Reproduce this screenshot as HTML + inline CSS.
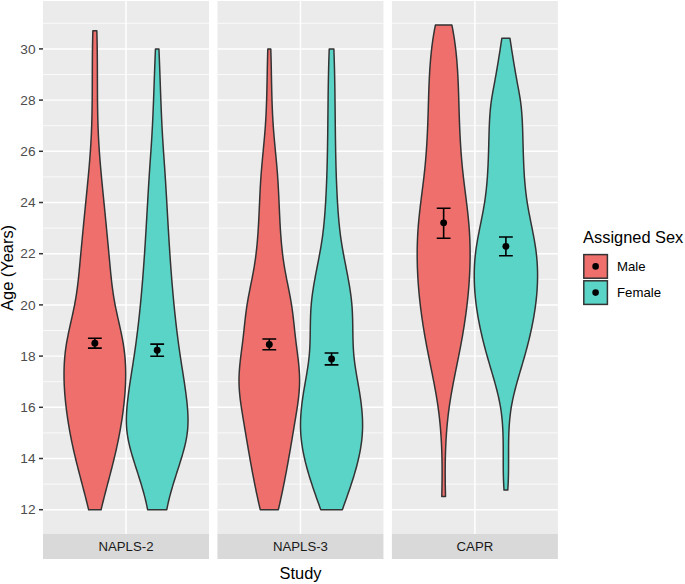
<!DOCTYPE html>
<html><head><meta charset="utf-8"><style>
html,body{margin:0;padding:0;background:#fff;}
body{width:685px;height:584px;position:relative;overflow:hidden;font-family:"Liberation Sans",sans-serif;}
div{position:absolute;white-space:nowrap;}
.yt{left:0;width:35.6px;text-align:right;font-size:13.7px;line-height:13.7px;color:#4D4D4D;}
.st{width:166px;text-align:center;font-size:13.2px;line-height:13.2px;color:#1A1A1A;}
.xt{left:43px;width:515px;text-align:center;top:565.02px;font-size:16.4px;line-height:16.4px;color:#000;}
.ytitle{left:-37.15px;top:253.97px;width:100px;text-align:center;font-size:16.4px;line-height:16.4px;transform-origin:50px 13.883px;transform:translate(0,0) rotate(-90deg);color:#000;}
.lt{left:583.1px;top:229.12px;font-size:16.4px;line-height:16.4px;color:#000;}
.ll{left:617.0px;font-size:13.2px;line-height:13.2px;color:#000;}
</style></head><body>
<svg width="685" height="584" viewBox="0 0 685 584" style="position:absolute;left:0;top:0"><rect x="43.0" y="1.0" width="166.0" height="533.0" fill="#EBEBEB"/><line x1="43.0" x2="209.0" y1="484.10" y2="484.10" stroke="#fff" stroke-width="0.75"/><line x1="43.0" x2="209.0" y1="432.90" y2="432.90" stroke="#fff" stroke-width="0.75"/><line x1="43.0" x2="209.0" y1="381.70" y2="381.70" stroke="#fff" stroke-width="0.75"/><line x1="43.0" x2="209.0" y1="330.50" y2="330.50" stroke="#fff" stroke-width="0.75"/><line x1="43.0" x2="209.0" y1="279.30" y2="279.30" stroke="#fff" stroke-width="0.75"/><line x1="43.0" x2="209.0" y1="228.10" y2="228.10" stroke="#fff" stroke-width="0.75"/><line x1="43.0" x2="209.0" y1="176.90" y2="176.90" stroke="#fff" stroke-width="0.75"/><line x1="43.0" x2="209.0" y1="125.70" y2="125.70" stroke="#fff" stroke-width="0.75"/><line x1="43.0" x2="209.0" y1="74.50" y2="74.50" stroke="#fff" stroke-width="0.75"/><line x1="43.0" x2="209.0" y1="23.30" y2="23.30" stroke="#fff" stroke-width="0.75"/><line x1="43.0" x2="209.0" y1="509.70" y2="509.70" stroke="#fff" stroke-width="1.45"/><line x1="43.0" x2="209.0" y1="458.50" y2="458.50" stroke="#fff" stroke-width="1.45"/><line x1="43.0" x2="209.0" y1="407.30" y2="407.30" stroke="#fff" stroke-width="1.45"/><line x1="43.0" x2="209.0" y1="356.10" y2="356.10" stroke="#fff" stroke-width="1.45"/><line x1="43.0" x2="209.0" y1="304.90" y2="304.90" stroke="#fff" stroke-width="1.45"/><line x1="43.0" x2="209.0" y1="253.70" y2="253.70" stroke="#fff" stroke-width="1.45"/><line x1="43.0" x2="209.0" y1="202.50" y2="202.50" stroke="#fff" stroke-width="1.45"/><line x1="43.0" x2="209.0" y1="151.30" y2="151.30" stroke="#fff" stroke-width="1.45"/><line x1="43.0" x2="209.0" y1="100.10" y2="100.10" stroke="#fff" stroke-width="1.45"/><line x1="43.0" x2="209.0" y1="48.90" y2="48.90" stroke="#fff" stroke-width="1.45"/><line x1="126.00" x2="126.00" y1="1.0" y2="534.0" stroke="#fff" stroke-width="1.45"/><rect x="43.0" y="534.0" width="166.0" height="25" fill="#D9D9D9"/><rect x="217.45" y="1.0" width="166.0" height="533.0" fill="#EBEBEB"/><line x1="217.45" x2="383.45" y1="484.10" y2="484.10" stroke="#fff" stroke-width="0.75"/><line x1="217.45" x2="383.45" y1="432.90" y2="432.90" stroke="#fff" stroke-width="0.75"/><line x1="217.45" x2="383.45" y1="381.70" y2="381.70" stroke="#fff" stroke-width="0.75"/><line x1="217.45" x2="383.45" y1="330.50" y2="330.50" stroke="#fff" stroke-width="0.75"/><line x1="217.45" x2="383.45" y1="279.30" y2="279.30" stroke="#fff" stroke-width="0.75"/><line x1="217.45" x2="383.45" y1="228.10" y2="228.10" stroke="#fff" stroke-width="0.75"/><line x1="217.45" x2="383.45" y1="176.90" y2="176.90" stroke="#fff" stroke-width="0.75"/><line x1="217.45" x2="383.45" y1="125.70" y2="125.70" stroke="#fff" stroke-width="0.75"/><line x1="217.45" x2="383.45" y1="74.50" y2="74.50" stroke="#fff" stroke-width="0.75"/><line x1="217.45" x2="383.45" y1="23.30" y2="23.30" stroke="#fff" stroke-width="0.75"/><line x1="217.45" x2="383.45" y1="509.70" y2="509.70" stroke="#fff" stroke-width="1.45"/><line x1="217.45" x2="383.45" y1="458.50" y2="458.50" stroke="#fff" stroke-width="1.45"/><line x1="217.45" x2="383.45" y1="407.30" y2="407.30" stroke="#fff" stroke-width="1.45"/><line x1="217.45" x2="383.45" y1="356.10" y2="356.10" stroke="#fff" stroke-width="1.45"/><line x1="217.45" x2="383.45" y1="304.90" y2="304.90" stroke="#fff" stroke-width="1.45"/><line x1="217.45" x2="383.45" y1="253.70" y2="253.70" stroke="#fff" stroke-width="1.45"/><line x1="217.45" x2="383.45" y1="202.50" y2="202.50" stroke="#fff" stroke-width="1.45"/><line x1="217.45" x2="383.45" y1="151.30" y2="151.30" stroke="#fff" stroke-width="1.45"/><line x1="217.45" x2="383.45" y1="100.10" y2="100.10" stroke="#fff" stroke-width="1.45"/><line x1="217.45" x2="383.45" y1="48.90" y2="48.90" stroke="#fff" stroke-width="1.45"/><line x1="300.45" x2="300.45" y1="1.0" y2="534.0" stroke="#fff" stroke-width="1.45"/><rect x="217.45" y="534.0" width="166.0" height="25" fill="#D9D9D9"/><rect x="391.9" y="1.0" width="166.0" height="533.0" fill="#EBEBEB"/><line x1="391.9" x2="557.9" y1="484.10" y2="484.10" stroke="#fff" stroke-width="0.75"/><line x1="391.9" x2="557.9" y1="432.90" y2="432.90" stroke="#fff" stroke-width="0.75"/><line x1="391.9" x2="557.9" y1="381.70" y2="381.70" stroke="#fff" stroke-width="0.75"/><line x1="391.9" x2="557.9" y1="330.50" y2="330.50" stroke="#fff" stroke-width="0.75"/><line x1="391.9" x2="557.9" y1="279.30" y2="279.30" stroke="#fff" stroke-width="0.75"/><line x1="391.9" x2="557.9" y1="228.10" y2="228.10" stroke="#fff" stroke-width="0.75"/><line x1="391.9" x2="557.9" y1="176.90" y2="176.90" stroke="#fff" stroke-width="0.75"/><line x1="391.9" x2="557.9" y1="125.70" y2="125.70" stroke="#fff" stroke-width="0.75"/><line x1="391.9" x2="557.9" y1="74.50" y2="74.50" stroke="#fff" stroke-width="0.75"/><line x1="391.9" x2="557.9" y1="23.30" y2="23.30" stroke="#fff" stroke-width="0.75"/><line x1="391.9" x2="557.9" y1="509.70" y2="509.70" stroke="#fff" stroke-width="1.45"/><line x1="391.9" x2="557.9" y1="458.50" y2="458.50" stroke="#fff" stroke-width="1.45"/><line x1="391.9" x2="557.9" y1="407.30" y2="407.30" stroke="#fff" stroke-width="1.45"/><line x1="391.9" x2="557.9" y1="356.10" y2="356.10" stroke="#fff" stroke-width="1.45"/><line x1="391.9" x2="557.9" y1="304.90" y2="304.90" stroke="#fff" stroke-width="1.45"/><line x1="391.9" x2="557.9" y1="253.70" y2="253.70" stroke="#fff" stroke-width="1.45"/><line x1="391.9" x2="557.9" y1="202.50" y2="202.50" stroke="#fff" stroke-width="1.45"/><line x1="391.9" x2="557.9" y1="151.30" y2="151.30" stroke="#fff" stroke-width="1.45"/><line x1="391.9" x2="557.9" y1="100.10" y2="100.10" stroke="#fff" stroke-width="1.45"/><line x1="391.9" x2="557.9" y1="48.90" y2="48.90" stroke="#fff" stroke-width="1.45"/><line x1="474.90" x2="474.90" y1="1.0" y2="534.0" stroke="#fff" stroke-width="1.45"/><rect x="391.9" y="534.0" width="166.0" height="25" fill="#D9D9D9"/><path d="M101.08,509.70 L101.39,508.42 L101.70,507.14 L102.01,505.86 L102.32,504.58 L102.64,503.30 L102.96,502.02 L103.28,500.74 L103.61,499.45 L103.93,498.17 L104.26,496.89 L104.59,495.61 L104.92,494.33 L105.25,493.05 L105.58,491.77 L105.92,490.49 L106.25,489.21 L106.59,487.93 L106.92,486.65 L107.26,485.37 L107.60,484.09 L107.93,482.81 L108.27,481.52 L108.61,480.24 L108.94,478.96 L109.28,477.68 L109.61,476.40 L109.95,475.12 L110.28,473.84 L110.61,472.56 L110.94,471.28 L111.27,470.00 L111.60,468.72 L111.93,467.44 L112.25,466.16 L112.58,464.88 L112.90,463.60 L113.22,462.31 L113.53,461.03 L113.85,459.75 L114.16,458.47 L114.47,457.19 L114.77,455.91 L115.08,454.63 L115.38,453.35 L115.67,452.07 L115.97,450.79 L116.26,449.51 L116.54,448.23 L116.82,446.95 L117.10,445.67 L117.37,444.39 L117.64,443.10 L117.91,441.82 L118.17,440.54 L118.43,439.26 L118.69,437.98 L118.94,436.70 L119.18,435.42 L119.43,434.14 L119.67,432.86 L119.90,431.58 L120.13,430.30 L120.36,429.02 L120.58,427.74 L120.80,426.46 L121.01,425.17 L121.22,423.89 L121.43,422.61 L121.63,421.33 L121.83,420.05 L122.02,418.77 L122.21,417.49 L122.40,416.21 L122.58,414.93 L122.75,413.65 L122.92,412.37 L123.09,411.09 L123.26,409.81 L123.41,408.53 L123.57,407.25 L123.72,405.96 L123.86,404.68 L124.01,403.40 L124.14,402.12 L124.27,400.84 L124.40,399.56 L124.52,398.28 L124.64,397.00 L124.75,395.72 L124.85,394.44 L124.95,393.16 L125.04,391.88 L125.13,390.60 L125.21,389.32 L125.29,388.03 L125.36,386.75 L125.42,385.47 L125.48,384.19 L125.53,382.91 L125.57,381.63 L125.61,380.35 L125.64,379.07 L125.66,377.79 L125.67,376.51 L125.68,375.23 L125.68,373.95 L125.68,372.67 L125.66,371.39 L125.64,370.11 L125.61,368.82 L125.57,367.54 L125.52,366.26 L125.47,364.98 L125.40,363.70 L125.33,362.42 L125.25,361.14 L125.16,359.86 L125.07,358.58 L124.96,357.30 L124.84,356.02 L124.72,354.74 L124.58,353.46 L124.44,352.18 L124.28,350.90 L124.12,349.61 L123.95,348.33 L123.76,347.05 L123.57,345.77 L123.37,344.49 L123.16,343.21 L122.94,341.93 L122.71,340.65 L122.47,339.37 L122.23,338.09 L121.98,336.81 L121.73,335.53 L121.47,334.25 L121.20,332.97 L120.93,331.68 L120.66,330.40 L120.38,329.12 L120.10,327.84 L119.82,326.56 L119.54,325.28 L119.25,324.00 L118.96,322.72 L118.68,321.44 L118.39,320.16 L118.10,318.88 L117.81,317.60 L117.53,316.32 L117.24,315.04 L116.96,313.76 L116.69,312.47 L116.41,311.19 L116.14,309.91 L115.87,308.63 L115.61,307.35 L115.35,306.07 L115.10,304.79 L114.86,303.51 L114.62,302.23 L114.39,300.95 L114.16,299.67 L113.95,298.39 L113.74,297.11 L113.53,295.83 L113.33,294.55 L113.14,293.26 L112.96,291.98 L112.77,290.70 L112.60,289.42 L112.43,288.14 L112.26,286.86 L112.10,285.58 L111.94,284.30 L111.79,283.02 L111.64,281.74 L111.50,280.46 L111.36,279.18 L111.22,277.90 L111.08,276.62 L110.95,275.33 L110.82,274.05 L110.69,272.77 L110.56,271.49 L110.44,270.21 L110.32,268.93 L110.19,267.65 L110.07,266.37 L109.95,265.09 L109.84,263.81 L109.72,262.53 L109.60,261.25 L109.48,259.97 L109.36,258.69 L109.24,257.41 L109.13,256.12 L109.01,254.84 L108.89,253.56 L108.77,252.28 L108.65,251.00 L108.53,249.72 L108.41,248.44 L108.29,247.16 L108.17,245.88 L108.05,244.60 L107.93,243.32 L107.80,242.04 L107.68,240.76 L107.56,239.48 L107.44,238.19 L107.32,236.91 L107.20,235.63 L107.07,234.35 L106.95,233.07 L106.83,231.79 L106.71,230.51 L106.58,229.23 L106.46,227.95 L106.34,226.67 L106.21,225.39 L106.09,224.11 L105.96,222.83 L105.84,221.55 L105.72,220.27 L105.59,218.98 L105.47,217.70 L105.34,216.42 L105.22,215.14 L105.09,213.86 L104.96,212.58 L104.84,211.30 L104.71,210.02 L104.59,208.74 L104.46,207.46 L104.33,206.18 L104.21,204.90 L104.08,203.62 L103.95,202.34 L103.83,201.06 L103.70,199.77 L103.57,198.49 L103.44,197.21 L103.32,195.93 L103.19,194.65 L103.06,193.37 L102.94,192.09 L102.81,190.81 L102.68,189.53 L102.56,188.25 L102.43,186.97 L102.31,185.69 L102.18,184.41 L102.06,183.13 L101.94,181.84 L101.81,180.56 L101.69,179.28 L101.57,178.00 L101.45,176.72 L101.33,175.44 L101.21,174.16 L101.10,172.88 L100.98,171.60 L100.87,170.32 L100.75,169.04 L100.64,167.76 L100.53,166.48 L100.42,165.20 L100.31,163.92 L100.21,162.63 L100.10,161.35 L100.00,160.07 L99.90,158.79 L99.80,157.51 L99.70,156.23 L99.60,154.95 L99.51,153.67 L99.42,152.39 L99.33,151.11 L99.24,149.83 L99.15,148.55 L99.07,147.27 L98.99,145.99 L98.91,144.70 L98.83,143.42 L98.76,142.14 L98.68,140.86 L98.61,139.58 L98.55,138.30 L98.48,137.02 L98.42,135.74 L98.36,134.46 L98.30,133.18 L98.25,131.90 L98.20,130.62 L98.15,129.34 L98.10,128.06 L98.06,126.78 L98.01,125.49 L97.97,124.21 L97.93,122.93 L97.89,121.65 L97.86,120.37 L97.82,119.09 L97.79,117.81 L97.76,116.53 L97.73,115.25 L97.71,113.97 L97.68,112.69 L97.66,111.41 L97.64,110.13 L97.62,108.85 L97.60,107.57 L97.58,106.28 L97.56,105.00 L97.55,103.72 L97.53,102.44 L97.52,101.16 L97.51,99.88 L97.49,98.60 L97.48,97.32 L97.47,96.04 L97.46,94.76 L97.46,93.48 L97.45,92.20 L97.44,90.92 L97.44,89.64 L97.43,88.35 L97.42,87.07 L97.42,85.79 L97.42,84.51 L97.41,83.23 L97.41,81.95 L97.40,80.67 L97.40,79.39 L97.40,78.11 L97.39,76.83 L97.39,75.55 L97.39,74.27 L97.38,72.99 L97.38,71.71 L97.37,70.43 L97.37,69.14 L97.36,67.86 L97.36,66.58 L97.35,65.30 L97.35,64.02 L97.34,62.74 L97.33,61.46 L97.32,60.18 L97.31,58.90 L97.30,57.62 L97.29,56.34 L97.28,55.06 L97.27,53.78 L97.26,52.50 L97.24,51.21 L97.23,49.93 L97.21,48.65 L97.19,47.37 L97.17,46.09 L97.15,44.81 L97.13,43.53 L97.11,42.25 L97.08,40.97 L97.05,39.69 L97.03,38.41 L97.00,37.13 L96.96,35.85 L96.93,34.57 L96.89,33.29 L96.86,32.00 L96.82,30.72 L92.88,30.72 L92.84,32.00 L92.81,33.29 L92.77,34.57 L92.74,35.85 L92.70,37.13 L92.67,38.41 L92.65,39.69 L92.62,40.97 L92.59,42.25 L92.57,43.53 L92.55,44.81 L92.53,46.09 L92.51,47.37 L92.49,48.65 L92.47,49.93 L92.46,51.21 L92.44,52.50 L92.43,53.78 L92.42,55.06 L92.41,56.34 L92.40,57.62 L92.39,58.90 L92.38,60.18 L92.37,61.46 L92.36,62.74 L92.35,64.02 L92.35,65.30 L92.34,66.58 L92.34,67.86 L92.33,69.14 L92.33,70.43 L92.32,71.71 L92.32,72.99 L92.31,74.27 L92.31,75.55 L92.31,76.83 L92.30,78.11 L92.30,79.39 L92.30,80.67 L92.29,81.95 L92.29,83.23 L92.28,84.51 L92.28,85.79 L92.28,87.07 L92.27,88.35 L92.26,89.64 L92.26,90.92 L92.25,92.20 L92.24,93.48 L92.24,94.76 L92.23,96.04 L92.22,97.32 L92.21,98.60 L92.19,99.88 L92.18,101.16 L92.17,102.44 L92.15,103.72 L92.14,105.00 L92.12,106.28 L92.10,107.57 L92.08,108.85 L92.06,110.13 L92.04,111.41 L92.02,112.69 L91.99,113.97 L91.97,115.25 L91.94,116.53 L91.91,117.81 L91.88,119.09 L91.84,120.37 L91.81,121.65 L91.77,122.93 L91.73,124.21 L91.69,125.49 L91.64,126.78 L91.60,128.06 L91.55,129.34 L91.50,130.62 L91.45,131.90 L91.40,133.18 L91.34,134.46 L91.28,135.74 L91.22,137.02 L91.15,138.30 L91.09,139.58 L91.02,140.86 L90.94,142.14 L90.87,143.42 L90.79,144.70 L90.71,145.99 L90.63,147.27 L90.55,148.55 L90.46,149.83 L90.37,151.11 L90.28,152.39 L90.19,153.67 L90.10,154.95 L90.00,156.23 L89.90,157.51 L89.80,158.79 L89.70,160.07 L89.60,161.35 L89.49,162.63 L89.39,163.92 L89.28,165.20 L89.17,166.48 L89.06,167.76 L88.95,169.04 L88.83,170.32 L88.72,171.60 L88.60,172.88 L88.49,174.16 L88.37,175.44 L88.25,176.72 L88.13,178.00 L88.01,179.28 L87.89,180.56 L87.76,181.84 L87.64,183.13 L87.52,184.41 L87.39,185.69 L87.27,186.97 L87.14,188.25 L87.02,189.53 L86.89,190.81 L86.76,192.09 L86.64,193.37 L86.51,194.65 L86.38,195.93 L86.26,197.21 L86.13,198.49 L86.00,199.77 L85.87,201.06 L85.75,202.34 L85.62,203.62 L85.49,204.90 L85.37,206.18 L85.24,207.46 L85.11,208.74 L84.99,210.02 L84.86,211.30 L84.74,212.58 L84.61,213.86 L84.48,215.14 L84.36,216.42 L84.23,217.70 L84.11,218.98 L83.98,220.27 L83.86,221.55 L83.74,222.83 L83.61,224.11 L83.49,225.39 L83.36,226.67 L83.24,227.95 L83.12,229.23 L82.99,230.51 L82.87,231.79 L82.75,233.07 L82.63,234.35 L82.50,235.63 L82.38,236.91 L82.26,238.19 L82.14,239.48 L82.02,240.76 L81.90,242.04 L81.77,243.32 L81.65,244.60 L81.53,245.88 L81.41,247.16 L81.29,248.44 L81.17,249.72 L81.05,251.00 L80.93,252.28 L80.81,253.56 L80.69,254.84 L80.57,256.12 L80.46,257.41 L80.34,258.69 L80.22,259.97 L80.10,261.25 L79.98,262.53 L79.86,263.81 L79.75,265.09 L79.63,266.37 L79.51,267.65 L79.38,268.93 L79.26,270.21 L79.14,271.49 L79.01,272.77 L78.88,274.05 L78.75,275.33 L78.62,276.62 L78.48,277.90 L78.34,279.18 L78.20,280.46 L78.06,281.74 L77.91,283.02 L77.76,284.30 L77.60,285.58 L77.44,286.86 L77.27,288.14 L77.10,289.42 L76.93,290.70 L76.74,291.98 L76.56,293.26 L76.37,294.55 L76.17,295.83 L75.96,297.11 L75.75,298.39 L75.54,299.67 L75.31,300.95 L75.08,302.23 L74.84,303.51 L74.60,304.79 L74.35,306.07 L74.09,307.35 L73.83,308.63 L73.56,309.91 L73.29,311.19 L73.01,312.47 L72.74,313.76 L72.46,315.04 L72.17,316.32 L71.89,317.60 L71.60,318.88 L71.31,320.16 L71.02,321.44 L70.74,322.72 L70.45,324.00 L70.16,325.28 L69.88,326.56 L69.60,327.84 L69.32,329.12 L69.04,330.40 L68.77,331.68 L68.50,332.97 L68.23,334.25 L67.97,335.53 L67.72,336.81 L67.47,338.09 L67.23,339.37 L66.99,340.65 L66.76,341.93 L66.54,343.21 L66.33,344.49 L66.13,345.77 L65.94,347.05 L65.75,348.33 L65.58,349.61 L65.42,350.90 L65.26,352.18 L65.12,353.46 L64.98,354.74 L64.86,356.02 L64.74,357.30 L64.63,358.58 L64.54,359.86 L64.45,361.14 L64.37,362.42 L64.30,363.70 L64.23,364.98 L64.18,366.26 L64.13,367.54 L64.09,368.82 L64.06,370.11 L64.04,371.39 L64.02,372.67 L64.02,373.95 L64.02,375.23 L64.03,376.51 L64.04,377.79 L64.06,379.07 L64.09,380.35 L64.13,381.63 L64.17,382.91 L64.22,384.19 L64.28,385.47 L64.34,386.75 L64.41,388.03 L64.49,389.32 L64.57,390.60 L64.66,391.88 L64.75,393.16 L64.85,394.44 L64.95,395.72 L65.06,397.00 L65.18,398.28 L65.30,399.56 L65.43,400.84 L65.56,402.12 L65.69,403.40 L65.84,404.68 L65.98,405.96 L66.13,407.25 L66.29,408.53 L66.44,409.81 L66.61,411.09 L66.78,412.37 L66.95,413.65 L67.12,414.93 L67.30,416.21 L67.49,417.49 L67.68,418.77 L67.87,420.05 L68.07,421.33 L68.27,422.61 L68.48,423.89 L68.69,425.17 L68.90,426.46 L69.12,427.74 L69.34,429.02 L69.57,430.30 L69.80,431.58 L70.03,432.86 L70.27,434.14 L70.52,435.42 L70.76,436.70 L71.01,437.98 L71.27,439.26 L71.53,440.54 L71.79,441.82 L72.06,443.10 L72.33,444.39 L72.60,445.67 L72.88,446.95 L73.16,448.23 L73.44,449.51 L73.73,450.79 L74.03,452.07 L74.32,453.35 L74.62,454.63 L74.93,455.91 L75.23,457.19 L75.54,458.47 L75.85,459.75 L76.17,461.03 L76.48,462.31 L76.80,463.60 L77.12,464.88 L77.45,466.16 L77.77,467.44 L78.10,468.72 L78.43,470.00 L78.76,471.28 L79.09,472.56 L79.42,473.84 L79.75,475.12 L80.09,476.40 L80.42,477.68 L80.76,478.96 L81.09,480.24 L81.43,481.52 L81.77,482.81 L82.10,484.09 L82.44,485.37 L82.78,486.65 L83.11,487.93 L83.45,489.21 L83.78,490.49 L84.12,491.77 L84.45,493.05 L84.78,494.33 L85.11,495.61 L85.44,496.89 L85.77,498.17 L86.09,499.45 L86.42,500.74 L86.74,502.02 L87.06,503.30 L87.38,504.58 L87.69,505.86 L88.00,507.14 L88.31,508.42 L88.62,509.70 Z" fill="#EE6F6C" stroke="#333333" stroke-width="1.5" stroke-linejoin="round"/><path d="M166.79,509.70 L167.03,508.42 L167.28,507.14 L167.54,505.86 L167.81,504.58 L168.09,503.30 L168.38,502.02 L168.68,500.74 L168.99,499.46 L169.31,498.18 L169.64,496.90 L169.97,495.62 L170.31,494.34 L170.66,493.06 L171.01,491.78 L171.37,490.50 L171.74,489.22 L172.11,487.94 L172.48,486.66 L172.86,485.38 L173.25,484.10 L173.64,482.82 L174.03,481.54 L174.43,480.26 L174.83,478.98 L175.23,477.70 L175.64,476.42 L176.04,475.14 L176.45,473.86 L176.86,472.58 L177.27,471.30 L177.68,470.02 L178.09,468.74 L178.50,467.46 L178.91,466.18 L179.32,464.90 L179.72,463.62 L180.13,462.34 L180.53,461.06 L180.92,459.78 L181.32,458.50 L181.70,457.22 L182.09,455.94 L182.46,454.66 L182.83,453.38 L183.19,452.10 L183.55,450.82 L183.89,449.54 L184.23,448.26 L184.55,446.98 L184.87,445.70 L185.17,444.42 L185.46,443.14 L185.74,441.86 L186.00,440.58 L186.25,439.30 L186.48,438.02 L186.70,436.74 L186.91,435.46 L187.09,434.18 L187.26,432.90 L187.41,431.62 L187.54,430.34 L187.66,429.06 L187.75,427.78 L187.84,426.50 L187.90,425.22 L187.95,423.94 L187.99,422.66 L188.01,421.38 L188.01,420.10 L188.01,418.82 L187.99,417.54 L187.95,416.26 L187.91,414.98 L187.85,413.70 L187.79,412.42 L187.71,411.14 L187.63,409.86 L187.53,408.58 L187.43,407.30 L187.32,406.02 L187.20,404.74 L187.07,403.46 L186.94,402.18 L186.80,400.90 L186.65,399.62 L186.50,398.34 L186.35,397.06 L186.19,395.78 L186.03,394.50 L185.86,393.22 L185.69,391.94 L185.52,390.66 L185.34,389.38 L185.16,388.10 L184.98,386.82 L184.80,385.54 L184.61,384.26 L184.42,382.98 L184.23,381.70 L184.04,380.42 L183.84,379.14 L183.64,377.86 L183.45,376.58 L183.25,375.30 L183.05,374.02 L182.85,372.74 L182.65,371.46 L182.45,370.18 L182.25,368.90 L182.05,367.62 L181.85,366.34 L181.64,365.06 L181.44,363.78 L181.25,362.50 L181.05,361.22 L180.85,359.94 L180.66,358.66 L180.46,357.38 L180.27,356.10 L180.08,354.82 L179.89,353.54 L179.70,352.26 L179.52,350.98 L179.34,349.70 L179.16,348.42 L178.98,347.14 L178.80,345.86 L178.62,344.58 L178.45,343.30 L178.28,342.02 L178.11,340.74 L177.94,339.46 L177.78,338.18 L177.61,336.90 L177.45,335.62 L177.29,334.34 L177.13,333.06 L176.97,331.78 L176.81,330.50 L176.66,329.22 L176.51,327.94 L176.35,326.66 L176.20,325.38 L176.06,324.10 L175.91,322.82 L175.77,321.54 L175.62,320.26 L175.48,318.98 L175.34,317.70 L175.20,316.42 L175.06,315.14 L174.93,313.86 L174.79,312.58 L174.66,311.30 L174.53,310.02 L174.40,308.74 L174.27,307.46 L174.14,306.18 L174.01,304.90 L173.89,303.62 L173.77,302.34 L173.64,301.06 L173.52,299.78 L173.40,298.50 L173.28,297.22 L173.17,295.94 L173.05,294.66 L172.93,293.38 L172.82,292.10 L172.71,290.82 L172.60,289.54 L172.49,288.26 L172.38,286.98 L172.27,285.70 L172.16,284.42 L172.05,283.14 L171.95,281.86 L171.85,280.58 L171.74,279.30 L171.64,278.02 L171.54,276.74 L171.44,275.46 L171.34,274.18 L171.24,272.90 L171.14,271.62 L171.05,270.34 L170.95,269.06 L170.86,267.78 L170.76,266.50 L170.67,265.22 L170.58,263.94 L170.49,262.66 L170.40,261.38 L170.31,260.10 L170.22,258.82 L170.13,257.54 L170.04,256.26 L169.95,254.98 L169.87,253.70 L169.78,252.42 L169.70,251.14 L169.61,249.86 L169.53,248.58 L169.45,247.30 L169.37,246.02 L169.28,244.74 L169.20,243.46 L169.12,242.18 L169.04,240.90 L168.96,239.62 L168.88,238.34 L168.80,237.06 L168.73,235.78 L168.65,234.50 L168.57,233.22 L168.49,231.94 L168.42,230.66 L168.34,229.38 L168.26,228.10 L168.19,226.82 L168.11,225.54 L168.04,224.26 L167.96,222.98 L167.89,221.70 L167.82,220.42 L167.74,219.14 L167.67,217.86 L167.59,216.58 L167.52,215.30 L167.45,214.02 L167.37,212.74 L167.30,211.46 L167.23,210.18 L167.15,208.90 L167.08,207.62 L167.01,206.34 L166.93,205.06 L166.86,203.78 L166.79,202.50 L166.71,201.22 L166.64,199.94 L166.57,198.66 L166.49,197.38 L166.42,196.10 L166.34,194.82 L166.27,193.54 L166.19,192.26 L166.11,190.98 L166.04,189.70 L165.96,188.42 L165.88,187.14 L165.81,185.86 L165.73,184.58 L165.65,183.30 L165.57,182.02 L165.49,180.74 L165.41,179.46 L165.33,178.18 L165.25,176.90 L165.17,175.62 L165.08,174.34 L165.00,173.06 L164.91,171.78 L164.83,170.50 L164.74,169.22 L164.66,167.94 L164.57,166.66 L164.48,165.38 L164.39,164.10 L164.30,162.82 L164.22,161.54 L164.13,160.26 L164.04,158.98 L163.95,157.70 L163.86,156.42 L163.77,155.14 L163.68,153.86 L163.59,152.58 L163.50,151.30 L163.42,150.02 L163.33,148.74 L163.24,147.46 L163.16,146.18 L163.07,144.90 L162.99,143.62 L162.91,142.34 L162.83,141.06 L162.75,139.78 L162.67,138.50 L162.59,137.22 L162.52,135.94 L162.44,134.66 L162.37,133.38 L162.30,132.10 L162.23,130.82 L162.16,129.54 L162.09,128.26 L162.02,126.98 L161.96,125.70 L161.89,124.42 L161.83,123.14 L161.77,121.86 L161.71,120.58 L161.65,119.30 L161.59,118.02 L161.53,116.74 L161.47,115.46 L161.42,114.18 L161.36,112.90 L161.31,111.62 L161.25,110.34 L161.20,109.06 L161.15,107.78 L161.10,106.50 L161.05,105.22 L161.00,103.94 L160.95,102.66 L160.90,101.38 L160.85,100.10 L160.80,98.82 L160.75,97.54 L160.70,96.26 L160.66,94.98 L160.61,93.70 L160.56,92.42 L160.52,91.14 L160.47,89.86 L160.42,88.58 L160.38,87.30 L160.33,86.02 L160.29,84.74 L160.24,83.46 L160.20,82.18 L160.15,80.90 L160.11,79.62 L160.06,78.34 L160.02,77.06 L159.97,75.78 L159.92,74.50 L159.88,73.22 L159.83,71.94 L159.79,70.66 L159.74,69.38 L159.69,68.10 L159.64,66.82 L159.60,65.54 L159.55,64.26 L159.50,62.98 L159.45,61.70 L159.40,60.42 L159.35,59.14 L159.30,57.86 L159.25,56.58 L159.20,55.30 L159.14,54.02 L159.09,52.74 L159.04,51.46 L158.98,50.18 L158.93,48.90 L155.47,48.90 L155.42,50.18 L155.36,51.46 L155.31,52.74 L155.26,54.02 L155.20,55.30 L155.15,56.58 L155.10,57.86 L155.05,59.14 L155.00,60.42 L154.95,61.70 L154.90,62.98 L154.85,64.26 L154.80,65.54 L154.76,66.82 L154.71,68.10 L154.66,69.38 L154.61,70.66 L154.57,71.94 L154.52,73.22 L154.48,74.50 L154.43,75.78 L154.38,77.06 L154.34,78.34 L154.29,79.62 L154.25,80.90 L154.20,82.18 L154.16,83.46 L154.11,84.74 L154.07,86.02 L154.02,87.30 L153.98,88.58 L153.93,89.86 L153.88,91.14 L153.84,92.42 L153.79,93.70 L153.74,94.98 L153.70,96.26 L153.65,97.54 L153.60,98.82 L153.55,100.10 L153.50,101.38 L153.45,102.66 L153.40,103.94 L153.35,105.22 L153.30,106.50 L153.25,107.78 L153.20,109.06 L153.15,110.34 L153.09,111.62 L153.04,112.90 L152.98,114.18 L152.93,115.46 L152.87,116.74 L152.81,118.02 L152.75,119.30 L152.69,120.58 L152.63,121.86 L152.57,123.14 L152.51,124.42 L152.44,125.70 L152.38,126.98 L152.31,128.26 L152.24,129.54 L152.17,130.82 L152.10,132.10 L152.03,133.38 L151.96,134.66 L151.88,135.94 L151.81,137.22 L151.73,138.50 L151.65,139.78 L151.57,141.06 L151.49,142.34 L151.41,143.62 L151.33,144.90 L151.24,146.18 L151.16,147.46 L151.07,148.74 L150.98,150.02 L150.90,151.30 L150.81,152.58 L150.72,153.86 L150.63,155.14 L150.54,156.42 L150.45,157.70 L150.36,158.98 L150.27,160.26 L150.18,161.54 L150.10,162.82 L150.01,164.10 L149.92,165.38 L149.83,166.66 L149.74,167.94 L149.66,169.22 L149.57,170.50 L149.49,171.78 L149.40,173.06 L149.32,174.34 L149.23,175.62 L149.15,176.90 L149.07,178.18 L148.99,179.46 L148.91,180.74 L148.83,182.02 L148.75,183.30 L148.67,184.58 L148.59,185.86 L148.52,187.14 L148.44,188.42 L148.36,189.70 L148.29,190.98 L148.21,192.26 L148.13,193.54 L148.06,194.82 L147.98,196.10 L147.91,197.38 L147.83,198.66 L147.76,199.94 L147.69,201.22 L147.61,202.50 L147.54,203.78 L147.47,205.06 L147.39,206.34 L147.32,207.62 L147.25,208.90 L147.17,210.18 L147.10,211.46 L147.03,212.74 L146.95,214.02 L146.88,215.30 L146.81,216.58 L146.73,217.86 L146.66,219.14 L146.58,220.42 L146.51,221.70 L146.44,222.98 L146.36,224.26 L146.29,225.54 L146.21,226.82 L146.14,228.10 L146.06,229.38 L145.98,230.66 L145.91,231.94 L145.83,233.22 L145.75,234.50 L145.67,235.78 L145.60,237.06 L145.52,238.34 L145.44,239.62 L145.36,240.90 L145.28,242.18 L145.20,243.46 L145.12,244.74 L145.03,246.02 L144.95,247.30 L144.87,248.58 L144.79,249.86 L144.70,251.14 L144.62,252.42 L144.53,253.70 L144.45,254.98 L144.36,256.26 L144.27,257.54 L144.18,258.82 L144.09,260.10 L144.00,261.38 L143.91,262.66 L143.82,263.94 L143.73,265.22 L143.64,266.50 L143.54,267.78 L143.45,269.06 L143.35,270.34 L143.26,271.62 L143.16,272.90 L143.06,274.18 L142.96,275.46 L142.86,276.74 L142.76,278.02 L142.66,279.30 L142.55,280.58 L142.45,281.86 L142.35,283.14 L142.24,284.42 L142.13,285.70 L142.02,286.98 L141.91,288.26 L141.80,289.54 L141.69,290.82 L141.58,292.10 L141.47,293.38 L141.35,294.66 L141.23,295.94 L141.12,297.22 L141.00,298.50 L140.88,299.78 L140.76,301.06 L140.63,302.34 L140.51,303.62 L140.39,304.90 L140.26,306.18 L140.13,307.46 L140.00,308.74 L139.87,310.02 L139.74,311.30 L139.61,312.58 L139.47,313.86 L139.34,315.14 L139.20,316.42 L139.06,317.70 L138.92,318.98 L138.78,320.26 L138.63,321.54 L138.49,322.82 L138.34,324.10 L138.20,325.38 L138.05,326.66 L137.89,327.94 L137.74,329.22 L137.59,330.50 L137.43,331.78 L137.27,333.06 L137.11,334.34 L136.95,335.62 L136.79,336.90 L136.62,338.18 L136.46,339.46 L136.29,340.74 L136.12,342.02 L135.95,343.30 L135.78,344.58 L135.60,345.86 L135.42,347.14 L135.24,348.42 L135.06,349.70 L134.88,350.98 L134.70,352.26 L134.51,353.54 L134.32,354.82 L134.13,356.10 L133.94,357.38 L133.74,358.66 L133.55,359.94 L133.35,361.22 L133.15,362.50 L132.96,363.78 L132.76,365.06 L132.55,366.34 L132.35,367.62 L132.15,368.90 L131.95,370.18 L131.75,371.46 L131.55,372.74 L131.35,374.02 L131.15,375.30 L130.95,376.58 L130.76,377.86 L130.56,379.14 L130.36,380.42 L130.17,381.70 L129.98,382.98 L129.79,384.26 L129.60,385.54 L129.42,386.82 L129.24,388.10 L129.06,389.38 L128.88,390.66 L128.71,391.94 L128.54,393.22 L128.37,394.50 L128.21,395.78 L128.05,397.06 L127.90,398.34 L127.75,399.62 L127.60,400.90 L127.46,402.18 L127.33,403.46 L127.20,404.74 L127.08,406.02 L126.97,407.30 L126.87,408.58 L126.77,409.86 L126.69,411.14 L126.61,412.42 L126.55,413.70 L126.49,414.98 L126.45,416.26 L126.41,417.54 L126.39,418.82 L126.39,420.10 L126.39,421.38 L126.41,422.66 L126.45,423.94 L126.50,425.22 L126.56,426.50 L126.65,427.78 L126.74,429.06 L126.86,430.34 L126.99,431.62 L127.14,432.90 L127.31,434.18 L127.49,435.46 L127.70,436.74 L127.92,438.02 L128.15,439.30 L128.40,440.58 L128.66,441.86 L128.94,443.14 L129.23,444.42 L129.53,445.70 L129.85,446.98 L130.17,448.26 L130.51,449.54 L130.85,450.82 L131.21,452.10 L131.57,453.38 L131.94,454.66 L132.31,455.94 L132.70,457.22 L133.08,458.50 L133.48,459.78 L133.87,461.06 L134.27,462.34 L134.68,463.62 L135.08,464.90 L135.49,466.18 L135.90,467.46 L136.31,468.74 L136.72,470.02 L137.13,471.30 L137.54,472.58 L137.95,473.86 L138.36,475.14 L138.76,476.42 L139.17,477.70 L139.57,478.98 L139.97,480.26 L140.37,481.54 L140.76,482.82 L141.15,484.10 L141.54,485.38 L141.92,486.66 L142.29,487.94 L142.66,489.22 L143.03,490.50 L143.39,491.78 L143.74,493.06 L144.09,494.34 L144.43,495.62 L144.76,496.90 L145.09,498.18 L145.41,499.46 L145.72,500.74 L146.02,502.02 L146.31,503.30 L146.59,504.58 L146.86,505.86 L147.12,507.14 L147.37,508.42 L147.61,509.70 Z" fill="#5BD4C8" stroke="#333333" stroke-width="1.5" stroke-linejoin="round"/><path d="M278.36,509.70 L278.66,508.42 L278.95,507.14 L279.24,505.86 L279.53,504.58 L279.82,503.30 L280.11,502.02 L280.39,500.74 L280.67,499.46 L280.95,498.18 L281.23,496.90 L281.50,495.62 L281.78,494.34 L282.05,493.06 L282.32,491.78 L282.58,490.50 L282.85,489.22 L283.11,487.94 L283.37,486.66 L283.63,485.38 L283.88,484.10 L284.14,482.82 L284.39,481.54 L284.64,480.26 L284.89,478.98 L285.14,477.70 L285.39,476.42 L285.63,475.14 L285.87,473.86 L286.12,472.58 L286.36,471.30 L286.60,470.02 L286.83,468.74 L287.07,467.46 L287.30,466.18 L287.54,464.90 L287.77,463.62 L288.00,462.34 L288.23,461.06 L288.46,459.78 L288.69,458.50 L288.91,457.22 L289.14,455.94 L289.36,454.66 L289.59,453.38 L289.81,452.10 L290.03,450.82 L290.25,449.54 L290.47,448.26 L290.69,446.98 L290.91,445.70 L291.13,444.42 L291.35,443.14 L291.56,441.86 L291.78,440.58 L292.00,439.30 L292.21,438.02 L292.43,436.74 L292.64,435.46 L292.85,434.18 L293.07,432.90 L293.28,431.62 L293.50,430.34 L293.71,429.06 L293.92,427.78 L294.13,426.50 L294.35,425.22 L294.56,423.94 L294.77,422.66 L294.98,421.38 L295.20,420.10 L295.41,418.82 L295.62,417.54 L295.83,416.26 L296.04,414.98 L296.25,413.70 L296.46,412.42 L296.66,411.14 L296.86,409.86 L297.06,408.58 L297.26,407.30 L297.45,406.02 L297.63,404.74 L297.81,403.46 L297.98,402.18 L298.15,400.90 L298.31,399.62 L298.47,398.34 L298.61,397.06 L298.75,395.78 L298.88,394.50 L299.00,393.22 L299.11,391.94 L299.21,390.66 L299.30,389.38 L299.38,388.10 L299.45,386.82 L299.51,385.54 L299.55,384.26 L299.58,382.98 L299.60,381.70 L299.60,380.42 L299.59,379.14 L299.57,377.86 L299.54,376.58 L299.49,375.30 L299.44,374.02 L299.37,372.74 L299.29,371.46 L299.21,370.18 L299.11,368.90 L299.01,367.62 L298.89,366.34 L298.78,365.06 L298.65,363.78 L298.52,362.50 L298.38,361.22 L298.24,359.94 L298.09,358.66 L297.94,357.38 L297.78,356.10 L297.62,354.82 L297.46,353.54 L297.30,352.26 L297.13,350.98 L296.96,349.70 L296.80,348.42 L296.63,347.14 L296.47,345.86 L296.30,344.58 L296.14,343.30 L295.98,342.02 L295.82,340.74 L295.67,339.46 L295.52,338.18 L295.37,336.90 L295.23,335.62 L295.08,334.34 L294.94,333.06 L294.80,331.78 L294.67,330.50 L294.53,329.22 L294.39,327.94 L294.25,326.66 L294.12,325.38 L293.98,324.10 L293.84,322.82 L293.70,321.54 L293.56,320.26 L293.41,318.98 L293.26,317.70 L293.11,316.42 L292.96,315.14 L292.80,313.86 L292.64,312.58 L292.47,311.30 L292.30,310.02 L292.12,308.74 L291.93,307.46 L291.74,306.18 L291.55,304.90 L291.34,303.62 L291.13,302.34 L290.91,301.06 L290.69,299.78 L290.46,298.50 L290.23,297.22 L289.99,295.94 L289.75,294.66 L289.51,293.38 L289.26,292.10 L289.01,290.82 L288.76,289.54 L288.50,288.26 L288.25,286.98 L287.99,285.70 L287.74,284.42 L287.48,283.14 L287.22,281.86 L286.97,280.58 L286.71,279.30 L286.46,278.02 L286.21,276.74 L285.97,275.46 L285.72,274.18 L285.48,272.90 L285.25,271.62 L285.01,270.34 L284.79,269.06 L284.57,267.78 L284.35,266.50 L284.14,265.22 L283.94,263.94 L283.75,262.66 L283.56,261.38 L283.37,260.10 L283.19,258.82 L283.02,257.54 L282.85,256.26 L282.69,254.98 L282.54,253.70 L282.39,252.42 L282.24,251.14 L282.10,249.86 L281.96,248.58 L281.83,247.30 L281.70,246.02 L281.58,244.74 L281.46,243.46 L281.34,242.18 L281.23,240.90 L281.13,239.62 L281.02,238.34 L280.92,237.06 L280.83,235.78 L280.73,234.50 L280.64,233.22 L280.55,231.94 L280.47,230.66 L280.39,229.38 L280.31,228.10 L280.23,226.82 L280.16,225.54 L280.08,224.26 L280.01,222.98 L279.94,221.70 L279.88,220.42 L279.81,219.14 L279.75,217.86 L279.69,216.58 L279.62,215.30 L279.56,214.02 L279.50,212.74 L279.45,211.46 L279.39,210.18 L279.33,208.90 L279.27,207.62 L279.22,206.34 L279.16,205.06 L279.10,203.78 L279.05,202.50 L278.99,201.22 L278.93,199.94 L278.87,198.66 L278.81,197.38 L278.75,196.10 L278.69,194.82 L278.63,193.54 L278.57,192.26 L278.50,190.98 L278.44,189.70 L278.37,188.42 L278.30,187.14 L278.23,185.86 L278.16,184.58 L278.08,183.30 L278.00,182.02 L277.92,180.74 L277.84,179.46 L277.75,178.18 L277.66,176.90 L277.57,175.62 L277.48,174.34 L277.38,173.06 L277.28,171.78 L277.18,170.50 L277.07,169.22 L276.96,167.94 L276.85,166.66 L276.74,165.38 L276.63,164.10 L276.52,162.82 L276.40,161.54 L276.28,160.26 L276.16,158.98 L276.05,157.70 L275.93,156.42 L275.80,155.14 L275.68,153.86 L275.56,152.58 L275.44,151.30 L275.32,150.02 L275.20,148.74 L275.08,147.46 L274.96,146.18 L274.84,144.90 L274.72,143.62 L274.60,142.34 L274.48,141.06 L274.37,139.78 L274.26,138.50 L274.14,137.22 L274.03,135.94 L273.92,134.66 L273.82,133.38 L273.71,132.10 L273.61,130.82 L273.51,129.54 L273.42,128.26 L273.32,126.98 L273.23,125.70 L273.15,124.42 L273.06,123.14 L272.98,121.86 L272.90,120.58 L272.83,119.30 L272.75,118.02 L272.69,116.74 L272.62,115.46 L272.55,114.18 L272.49,112.90 L272.43,111.62 L272.38,110.34 L272.32,109.06 L272.27,107.78 L272.22,106.50 L272.17,105.22 L272.12,103.94 L272.08,102.66 L272.03,101.38 L271.99,100.10 L271.95,98.82 L271.92,97.54 L271.88,96.26 L271.84,94.98 L271.81,93.70 L271.78,92.42 L271.74,91.14 L271.71,89.86 L271.68,88.58 L271.65,87.30 L271.63,86.02 L271.60,84.74 L271.57,83.46 L271.55,82.18 L271.52,80.90 L271.49,79.62 L271.47,78.34 L271.44,77.06 L271.42,75.78 L271.39,74.50 L271.37,73.22 L271.34,71.94 L271.32,70.66 L271.29,69.38 L271.27,68.10 L271.24,66.82 L271.22,65.54 L271.19,64.26 L271.16,62.98 L271.13,61.70 L271.10,60.42 L271.07,59.14 L271.04,57.86 L271.01,56.58 L270.97,55.30 L270.94,54.02 L270.90,52.74 L270.87,51.46 L270.83,50.18 L270.79,48.90 L267.81,48.90 L267.77,50.18 L267.73,51.46 L267.70,52.74 L267.66,54.02 L267.63,55.30 L267.59,56.58 L267.56,57.86 L267.53,59.14 L267.50,60.42 L267.47,61.70 L267.44,62.98 L267.41,64.26 L267.38,65.54 L267.36,66.82 L267.33,68.10 L267.31,69.38 L267.28,70.66 L267.26,71.94 L267.23,73.22 L267.21,74.50 L267.18,75.78 L267.16,77.06 L267.13,78.34 L267.11,79.62 L267.08,80.90 L267.05,82.18 L267.03,83.46 L267.00,84.74 L266.97,86.02 L266.95,87.30 L266.92,88.58 L266.89,89.86 L266.86,91.14 L266.82,92.42 L266.79,93.70 L266.76,94.98 L266.72,96.26 L266.68,97.54 L266.65,98.82 L266.61,100.10 L266.57,101.38 L266.52,102.66 L266.48,103.94 L266.43,105.22 L266.38,106.50 L266.33,107.78 L266.28,109.06 L266.22,110.34 L266.17,111.62 L266.11,112.90 L266.05,114.18 L265.98,115.46 L265.91,116.74 L265.85,118.02 L265.77,119.30 L265.70,120.58 L265.62,121.86 L265.54,123.14 L265.45,124.42 L265.37,125.70 L265.28,126.98 L265.18,128.26 L265.09,129.54 L264.99,130.82 L264.89,132.10 L264.78,133.38 L264.68,134.66 L264.57,135.94 L264.46,137.22 L264.34,138.50 L264.23,139.78 L264.12,141.06 L264.00,142.34 L263.88,143.62 L263.76,144.90 L263.64,146.18 L263.52,147.46 L263.40,148.74 L263.28,150.02 L263.16,151.30 L263.04,152.58 L262.92,153.86 L262.80,155.14 L262.67,156.42 L262.55,157.70 L262.44,158.98 L262.32,160.26 L262.20,161.54 L262.08,162.82 L261.97,164.10 L261.86,165.38 L261.75,166.66 L261.64,167.94 L261.53,169.22 L261.42,170.50 L261.32,171.78 L261.22,173.06 L261.12,174.34 L261.03,175.62 L260.94,176.90 L260.85,178.18 L260.76,179.46 L260.68,180.74 L260.60,182.02 L260.52,183.30 L260.44,184.58 L260.37,185.86 L260.30,187.14 L260.23,188.42 L260.16,189.70 L260.10,190.98 L260.03,192.26 L259.97,193.54 L259.91,194.82 L259.85,196.10 L259.79,197.38 L259.73,198.66 L259.67,199.94 L259.61,201.22 L259.55,202.50 L259.50,203.78 L259.44,205.06 L259.38,206.34 L259.33,207.62 L259.27,208.90 L259.21,210.18 L259.15,211.46 L259.10,212.74 L259.04,214.02 L258.98,215.30 L258.91,216.58 L258.85,217.86 L258.79,219.14 L258.72,220.42 L258.66,221.70 L258.59,222.98 L258.52,224.26 L258.44,225.54 L258.37,226.82 L258.29,228.10 L258.21,229.38 L258.13,230.66 L258.05,231.94 L257.96,233.22 L257.87,234.50 L257.77,235.78 L257.68,237.06 L257.58,238.34 L257.47,239.62 L257.37,240.90 L257.26,242.18 L257.14,243.46 L257.02,244.74 L256.90,246.02 L256.77,247.30 L256.64,248.58 L256.50,249.86 L256.36,251.14 L256.21,252.42 L256.06,253.70 L255.91,254.98 L255.75,256.26 L255.58,257.54 L255.41,258.82 L255.23,260.10 L255.04,261.38 L254.85,262.66 L254.66,263.94 L254.46,265.22 L254.25,266.50 L254.03,267.78 L253.81,269.06 L253.59,270.34 L253.35,271.62 L253.12,272.90 L252.88,274.18 L252.63,275.46 L252.39,276.74 L252.14,278.02 L251.89,279.30 L251.63,280.58 L251.38,281.86 L251.12,283.14 L250.86,284.42 L250.61,285.70 L250.35,286.98 L250.10,288.26 L249.84,289.54 L249.59,290.82 L249.34,292.10 L249.09,293.38 L248.85,294.66 L248.61,295.94 L248.37,297.22 L248.14,298.50 L247.91,299.78 L247.69,301.06 L247.47,302.34 L247.26,303.62 L247.05,304.90 L246.86,306.18 L246.67,307.46 L246.48,308.74 L246.30,310.02 L246.13,311.30 L245.96,312.58 L245.80,313.86 L245.64,315.14 L245.49,316.42 L245.34,317.70 L245.19,318.98 L245.04,320.26 L244.90,321.54 L244.76,322.82 L244.62,324.10 L244.48,325.38 L244.35,326.66 L244.21,327.94 L244.07,329.22 L243.93,330.50 L243.80,331.78 L243.66,333.06 L243.52,334.34 L243.37,335.62 L243.23,336.90 L243.08,338.18 L242.93,339.46 L242.78,340.74 L242.62,342.02 L242.46,343.30 L242.30,344.58 L242.13,345.86 L241.97,347.14 L241.80,348.42 L241.64,349.70 L241.47,350.98 L241.30,352.26 L241.14,353.54 L240.98,354.82 L240.82,356.10 L240.66,357.38 L240.51,358.66 L240.36,359.94 L240.22,361.22 L240.08,362.50 L239.95,363.78 L239.82,365.06 L239.71,366.34 L239.59,367.62 L239.49,368.90 L239.39,370.18 L239.31,371.46 L239.23,372.74 L239.16,374.02 L239.11,375.30 L239.06,376.58 L239.03,377.86 L239.01,379.14 L239.00,380.42 L239.00,381.70 L239.02,382.98 L239.05,384.26 L239.09,385.54 L239.15,386.82 L239.22,388.10 L239.30,389.38 L239.39,390.66 L239.49,391.94 L239.60,393.22 L239.72,394.50 L239.85,395.78 L239.99,397.06 L240.13,398.34 L240.29,399.62 L240.45,400.90 L240.62,402.18 L240.79,403.46 L240.97,404.74 L241.15,406.02 L241.34,407.30 L241.54,408.58 L241.74,409.86 L241.94,411.14 L242.14,412.42 L242.35,413.70 L242.56,414.98 L242.77,416.26 L242.98,417.54 L243.19,418.82 L243.40,420.10 L243.62,421.38 L243.83,422.66 L244.04,423.94 L244.25,425.22 L244.47,426.50 L244.68,427.78 L244.89,429.06 L245.10,430.34 L245.32,431.62 L245.53,432.90 L245.75,434.18 L245.96,435.46 L246.17,436.74 L246.39,438.02 L246.60,439.30 L246.82,440.58 L247.04,441.86 L247.25,443.14 L247.47,444.42 L247.69,445.70 L247.91,446.98 L248.13,448.26 L248.35,449.54 L248.57,450.82 L248.79,452.10 L249.01,453.38 L249.24,454.66 L249.46,455.94 L249.69,457.22 L249.91,458.50 L250.14,459.78 L250.37,461.06 L250.60,462.34 L250.83,463.62 L251.06,464.90 L251.30,466.18 L251.53,467.46 L251.77,468.74 L252.00,470.02 L252.24,471.30 L252.48,472.58 L252.73,473.86 L252.97,475.14 L253.21,476.42 L253.46,477.70 L253.71,478.98 L253.96,480.26 L254.21,481.54 L254.46,482.82 L254.72,484.10 L254.97,485.38 L255.23,486.66 L255.49,487.94 L255.75,489.22 L256.02,490.50 L256.28,491.78 L256.55,493.06 L256.82,494.34 L257.10,495.62 L257.37,496.90 L257.65,498.18 L257.93,499.46 L258.21,500.74 L258.49,502.02 L258.78,503.30 L259.07,504.58 L259.36,505.86 L259.65,507.14 L259.94,508.42 L260.24,509.70 Z" fill="#EE6F6C" stroke="#333333" stroke-width="1.5" stroke-linejoin="round"/><path d="M342.34,509.70 L342.80,508.42 L343.26,507.14 L343.72,505.86 L344.18,504.58 L344.64,503.30 L345.10,502.02 L345.56,500.74 L346.01,499.46 L346.47,498.18 L346.92,496.90 L347.37,495.62 L347.82,494.34 L348.26,493.06 L348.70,491.78 L349.14,490.50 L349.58,489.22 L350.01,487.94 L350.44,486.66 L350.87,485.38 L351.29,484.10 L351.71,482.82 L352.12,481.54 L352.53,480.26 L352.94,478.98 L353.34,477.70 L353.73,476.42 L354.12,475.14 L354.50,473.86 L354.87,472.58 L355.24,471.30 L355.61,470.02 L355.96,468.74 L356.31,467.46 L356.66,466.18 L356.99,464.90 L357.32,463.62 L357.64,462.34 L357.95,461.06 L358.26,459.78 L358.55,458.50 L358.84,457.22 L359.12,455.94 L359.39,454.66 L359.65,453.38 L359.90,452.10 L360.14,450.82 L360.37,449.54 L360.59,448.26 L360.80,446.98 L361.00,445.70 L361.19,444.42 L361.37,443.14 L361.54,441.86 L361.69,440.58 L361.83,439.30 L361.97,438.02 L362.09,436.74 L362.19,435.46 L362.29,434.18 L362.37,432.90 L362.44,431.62 L362.49,430.34 L362.54,429.06 L362.57,427.78 L362.59,426.50 L362.59,425.22 L362.59,423.94 L362.57,422.66 L362.54,421.38 L362.51,420.10 L362.46,418.82 L362.40,417.54 L362.33,416.26 L362.25,414.98 L362.16,413.70 L362.07,412.42 L361.96,411.14 L361.84,409.86 L361.72,408.58 L361.59,407.30 L361.45,406.02 L361.30,404.74 L361.15,403.46 L360.99,402.18 L360.82,400.90 L360.65,399.62 L360.46,398.34 L360.28,397.06 L360.08,395.78 L359.89,394.50 L359.68,393.22 L359.48,391.94 L359.27,390.66 L359.05,389.38 L358.84,388.10 L358.62,386.82 L358.40,385.54 L358.17,384.26 L357.95,382.98 L357.73,381.70 L357.50,380.42 L357.28,379.14 L357.06,377.86 L356.84,376.58 L356.62,375.30 L356.41,374.02 L356.19,372.74 L355.98,371.46 L355.78,370.18 L355.58,368.90 L355.38,367.62 L355.19,366.34 L355.01,365.06 L354.83,363.78 L354.66,362.50 L354.50,361.22 L354.34,359.94 L354.19,358.66 L354.06,357.38 L353.93,356.10 L353.81,354.82 L353.70,353.54 L353.60,352.26 L353.51,350.98 L353.42,349.70 L353.35,348.42 L353.28,347.14 L353.22,345.86 L353.16,344.58 L353.11,343.30 L353.07,342.02 L353.03,340.74 L352.99,339.46 L352.96,338.18 L352.93,336.90 L352.91,335.62 L352.88,334.34 L352.86,333.06 L352.84,331.78 L352.83,330.50 L352.81,329.22 L352.79,327.94 L352.77,326.66 L352.75,325.38 L352.73,324.10 L352.70,322.82 L352.68,321.54 L352.65,320.26 L352.62,318.98 L352.58,317.70 L352.54,316.42 L352.49,315.14 L352.44,313.86 L352.38,312.58 L352.32,311.30 L352.25,310.02 L352.17,308.74 L352.09,307.46 L351.99,306.18 L351.89,304.90 L351.78,303.62 L351.66,302.34 L351.53,301.06 L351.39,299.78 L351.25,298.50 L351.09,297.22 L350.93,295.94 L350.76,294.66 L350.59,293.38 L350.41,292.10 L350.22,290.82 L350.03,289.54 L349.83,288.26 L349.62,286.98 L349.41,285.70 L349.20,284.42 L348.98,283.14 L348.76,281.86 L348.53,280.58 L348.30,279.30 L348.06,278.02 L347.83,276.74 L347.59,275.46 L347.35,274.18 L347.10,272.90 L346.86,271.62 L346.61,270.34 L346.37,269.06 L346.12,267.78 L345.87,266.50 L345.62,265.22 L345.37,263.94 L345.12,262.66 L344.87,261.38 L344.63,260.10 L344.38,258.82 L344.13,257.54 L343.89,256.26 L343.65,254.98 L343.41,253.70 L343.18,252.42 L342.95,251.14 L342.72,249.86 L342.49,248.58 L342.27,247.30 L342.06,246.02 L341.84,244.74 L341.64,243.46 L341.44,242.18 L341.24,240.90 L341.05,239.62 L340.86,238.34 L340.68,237.06 L340.51,235.78 L340.34,234.50 L340.18,233.22 L340.02,231.94 L339.87,230.66 L339.72,229.38 L339.58,228.10 L339.44,226.82 L339.31,225.54 L339.18,224.26 L339.05,222.98 L338.93,221.70 L338.81,220.42 L338.70,219.14 L338.59,217.86 L338.48,216.58 L338.38,215.30 L338.28,214.02 L338.18,212.74 L338.09,211.46 L338.00,210.18 L337.91,208.90 L337.83,207.62 L337.74,206.34 L337.66,205.06 L337.58,203.78 L337.51,202.50 L337.43,201.22 L337.36,199.94 L337.29,198.66 L337.22,197.38 L337.15,196.10 L337.08,194.82 L337.02,193.54 L336.96,192.26 L336.89,190.98 L336.83,189.70 L336.78,188.42 L336.72,187.14 L336.67,185.86 L336.61,184.58 L336.56,183.30 L336.51,182.02 L336.46,180.74 L336.41,179.46 L336.36,178.18 L336.32,176.90 L336.28,175.62 L336.23,174.34 L336.19,173.06 L336.15,171.78 L336.11,170.50 L336.07,169.22 L336.04,167.94 L336.00,166.66 L335.97,165.38 L335.93,164.10 L335.90,162.82 L335.87,161.54 L335.84,160.26 L335.81,158.98 L335.78,157.70 L335.75,156.42 L335.73,155.14 L335.70,153.86 L335.67,152.58 L335.65,151.30 L335.63,150.02 L335.60,148.74 L335.58,147.46 L335.56,146.18 L335.54,144.90 L335.52,143.62 L335.50,142.34 L335.48,141.06 L335.46,139.78 L335.44,138.50 L335.42,137.22 L335.41,135.94 L335.39,134.66 L335.37,133.38 L335.36,132.10 L335.34,130.82 L335.33,129.54 L335.31,128.26 L335.30,126.98 L335.28,125.70 L335.27,124.42 L335.26,123.14 L335.24,121.86 L335.23,120.58 L335.22,119.30 L335.20,118.02 L335.19,116.74 L335.18,115.46 L335.16,114.18 L335.15,112.90 L335.14,111.62 L335.12,110.34 L335.11,109.06 L335.10,107.78 L335.08,106.50 L335.07,105.22 L335.05,103.94 L335.04,102.66 L335.02,101.38 L335.01,100.10 L334.99,98.82 L334.98,97.54 L334.96,96.26 L334.95,94.98 L334.93,93.70 L334.91,92.42 L334.89,91.14 L334.88,89.86 L334.86,88.58 L334.84,87.30 L334.82,86.02 L334.80,84.74 L334.78,83.46 L334.75,82.18 L334.73,80.90 L334.71,79.62 L334.68,78.34 L334.66,77.06 L334.63,75.78 L334.61,74.50 L334.58,73.22 L334.55,71.94 L334.52,70.66 L334.49,69.38 L334.46,68.10 L334.43,66.82 L334.39,65.54 L334.36,64.26 L334.32,62.98 L334.29,61.70 L334.25,60.42 L334.21,59.14 L334.17,57.86 L334.13,56.58 L334.09,55.30 L334.04,54.02 L334.00,52.74 L333.95,51.46 L333.90,50.18 L333.86,48.90 L329.24,48.90 L329.20,50.18 L329.15,51.46 L329.10,52.74 L329.06,54.02 L329.01,55.30 L328.97,56.58 L328.93,57.86 L328.89,59.14 L328.85,60.42 L328.81,61.70 L328.78,62.98 L328.74,64.26 L328.71,65.54 L328.67,66.82 L328.64,68.10 L328.61,69.38 L328.58,70.66 L328.55,71.94 L328.52,73.22 L328.49,74.50 L328.47,75.78 L328.44,77.06 L328.42,78.34 L328.39,79.62 L328.37,80.90 L328.35,82.18 L328.32,83.46 L328.30,84.74 L328.28,86.02 L328.26,87.30 L328.24,88.58 L328.22,89.86 L328.21,91.14 L328.19,92.42 L328.17,93.70 L328.15,94.98 L328.14,96.26 L328.12,97.54 L328.11,98.82 L328.09,100.10 L328.08,101.38 L328.06,102.66 L328.05,103.94 L328.03,105.22 L328.02,106.50 L328.00,107.78 L327.99,109.06 L327.98,110.34 L327.96,111.62 L327.95,112.90 L327.94,114.18 L327.92,115.46 L327.91,116.74 L327.90,118.02 L327.88,119.30 L327.87,120.58 L327.86,121.86 L327.84,123.14 L327.83,124.42 L327.82,125.70 L327.80,126.98 L327.79,128.26 L327.77,129.54 L327.76,130.82 L327.74,132.10 L327.73,133.38 L327.71,134.66 L327.69,135.94 L327.68,137.22 L327.66,138.50 L327.64,139.78 L327.62,141.06 L327.60,142.34 L327.58,143.62 L327.56,144.90 L327.54,146.18 L327.52,147.46 L327.50,148.74 L327.47,150.02 L327.45,151.30 L327.43,152.58 L327.40,153.86 L327.37,155.14 L327.35,156.42 L327.32,157.70 L327.29,158.98 L327.26,160.26 L327.23,161.54 L327.20,162.82 L327.17,164.10 L327.13,165.38 L327.10,166.66 L327.06,167.94 L327.03,169.22 L326.99,170.50 L326.95,171.78 L326.91,173.06 L326.87,174.34 L326.82,175.62 L326.78,176.90 L326.74,178.18 L326.69,179.46 L326.64,180.74 L326.59,182.02 L326.54,183.30 L326.49,184.58 L326.43,185.86 L326.38,187.14 L326.32,188.42 L326.27,189.70 L326.21,190.98 L326.14,192.26 L326.08,193.54 L326.02,194.82 L325.95,196.10 L325.88,197.38 L325.81,198.66 L325.74,199.94 L325.67,201.22 L325.59,202.50 L325.52,203.78 L325.44,205.06 L325.36,206.34 L325.27,207.62 L325.19,208.90 L325.10,210.18 L325.01,211.46 L324.92,212.74 L324.82,214.02 L324.72,215.30 L324.62,216.58 L324.51,217.86 L324.40,219.14 L324.29,220.42 L324.17,221.70 L324.05,222.98 L323.92,224.26 L323.79,225.54 L323.66,226.82 L323.52,228.10 L323.38,229.38 L323.23,230.66 L323.08,231.94 L322.92,233.22 L322.76,234.50 L322.59,235.78 L322.42,237.06 L322.24,238.34 L322.05,239.62 L321.86,240.90 L321.66,242.18 L321.46,243.46 L321.26,244.74 L321.04,246.02 L320.83,247.30 L320.61,248.58 L320.38,249.86 L320.15,251.14 L319.92,252.42 L319.69,253.70 L319.45,254.98 L319.21,256.26 L318.97,257.54 L318.72,258.82 L318.47,260.10 L318.23,261.38 L317.98,262.66 L317.73,263.94 L317.48,265.22 L317.23,266.50 L316.98,267.78 L316.73,269.06 L316.49,270.34 L316.24,271.62 L316.00,272.90 L315.75,274.18 L315.51,275.46 L315.27,276.74 L315.04,278.02 L314.80,279.30 L314.57,280.58 L314.34,281.86 L314.12,283.14 L313.90,284.42 L313.69,285.70 L313.48,286.98 L313.27,288.26 L313.07,289.54 L312.88,290.82 L312.69,292.10 L312.51,293.38 L312.34,294.66 L312.17,295.94 L312.01,297.22 L311.85,298.50 L311.71,299.78 L311.57,301.06 L311.44,302.34 L311.32,303.62 L311.21,304.90 L311.11,306.18 L311.01,307.46 L310.93,308.74 L310.85,310.02 L310.78,311.30 L310.72,312.58 L310.66,313.86 L310.61,315.14 L310.56,316.42 L310.52,317.70 L310.48,318.98 L310.45,320.26 L310.42,321.54 L310.40,322.82 L310.37,324.10 L310.35,325.38 L310.33,326.66 L310.31,327.94 L310.29,329.22 L310.27,330.50 L310.26,331.78 L310.24,333.06 L310.22,334.34 L310.19,335.62 L310.17,336.90 L310.14,338.18 L310.11,339.46 L310.07,340.74 L310.03,342.02 L309.99,343.30 L309.94,344.58 L309.88,345.86 L309.82,347.14 L309.75,348.42 L309.68,349.70 L309.59,350.98 L309.50,352.26 L309.40,353.54 L309.29,354.82 L309.17,356.10 L309.04,357.38 L308.91,358.66 L308.76,359.94 L308.60,361.22 L308.44,362.50 L308.27,363.78 L308.09,365.06 L307.91,366.34 L307.72,367.62 L307.52,368.90 L307.32,370.18 L307.12,371.46 L306.91,372.74 L306.69,374.02 L306.48,375.30 L306.26,376.58 L306.04,377.86 L305.82,379.14 L305.60,380.42 L305.37,381.70 L305.15,382.98 L304.93,384.26 L304.70,385.54 L304.48,386.82 L304.26,388.10 L304.05,389.38 L303.83,390.66 L303.62,391.94 L303.42,393.22 L303.21,394.50 L303.02,395.78 L302.82,397.06 L302.64,398.34 L302.45,399.62 L302.28,400.90 L302.11,402.18 L301.95,403.46 L301.80,404.74 L301.65,406.02 L301.51,407.30 L301.38,408.58 L301.26,409.86 L301.14,411.14 L301.03,412.42 L300.94,413.70 L300.85,414.98 L300.77,416.26 L300.70,417.54 L300.64,418.82 L300.59,420.10 L300.56,421.38 L300.53,422.66 L300.51,423.94 L300.51,425.22 L300.51,426.50 L300.53,427.78 L300.56,429.06 L300.61,430.34 L300.66,431.62 L300.73,432.90 L300.81,434.18 L300.91,435.46 L301.01,436.74 L301.13,438.02 L301.27,439.30 L301.41,440.58 L301.56,441.86 L301.73,443.14 L301.91,444.42 L302.10,445.70 L302.30,446.98 L302.51,448.26 L302.73,449.54 L302.96,450.82 L303.20,452.10 L303.45,453.38 L303.71,454.66 L303.98,455.94 L304.26,457.22 L304.55,458.50 L304.84,459.78 L305.15,461.06 L305.46,462.34 L305.78,463.62 L306.11,464.90 L306.44,466.18 L306.79,467.46 L307.14,468.74 L307.49,470.02 L307.86,471.30 L308.23,472.58 L308.60,473.86 L308.98,475.14 L309.37,476.42 L309.76,477.70 L310.16,478.98 L310.57,480.26 L310.98,481.54 L311.39,482.82 L311.81,484.10 L312.23,485.38 L312.66,486.66 L313.09,487.94 L313.52,489.22 L313.96,490.50 L314.40,491.78 L314.84,493.06 L315.28,494.34 L315.73,495.62 L316.18,496.90 L316.63,498.18 L317.09,499.46 L317.54,500.74 L318.00,502.02 L318.46,503.30 L318.92,504.58 L319.38,505.86 L319.84,507.14 L320.30,508.42 L320.76,509.70 Z" fill="#5BD4C8" stroke="#333333" stroke-width="1.5" stroke-linejoin="round"/><path d="M445.52,496.40 L445.49,495.12 L445.46,493.84 L445.43,492.56 L445.40,491.28 L445.38,490.00 L445.35,488.72 L445.33,487.44 L445.31,486.15 L445.29,484.87 L445.27,483.59 L445.25,482.31 L445.24,481.03 L445.23,479.75 L445.21,478.47 L445.21,477.19 L445.20,475.91 L445.19,474.63 L445.19,473.35 L445.19,472.07 L445.19,470.79 L445.20,469.51 L445.20,468.22 L445.21,466.94 L445.22,465.66 L445.24,464.38 L445.25,463.10 L445.27,461.82 L445.29,460.54 L445.32,459.26 L445.35,457.98 L445.38,456.70 L445.41,455.42 L445.44,454.14 L445.48,452.86 L445.52,451.58 L445.57,450.29 L445.62,449.01 L445.67,447.73 L445.72,446.45 L445.78,445.17 L445.84,443.89 L445.90,442.61 L445.97,441.33 L446.04,440.05 L446.12,438.77 L446.19,437.49 L446.28,436.21 L446.36,434.93 L446.45,433.65 L446.54,432.36 L446.64,431.08 L446.74,429.80 L446.84,428.52 L446.95,427.24 L447.06,425.96 L447.18,424.68 L447.30,423.40 L447.43,422.12 L447.56,420.84 L447.69,419.56 L447.83,418.28 L447.97,417.00 L448.12,415.72 L448.27,414.43 L448.42,413.15 L448.58,411.87 L448.75,410.59 L448.92,409.31 L449.09,408.03 L449.27,406.75 L449.45,405.47 L449.64,404.19 L449.84,402.91 L450.03,401.63 L450.23,400.35 L450.44,399.07 L450.65,397.79 L450.86,396.50 L451.08,395.22 L451.30,393.94 L451.52,392.66 L451.75,391.38 L451.98,390.10 L452.21,388.82 L452.45,387.54 L452.68,386.26 L452.92,384.98 L453.17,383.70 L453.41,382.42 L453.66,381.14 L453.91,379.86 L454.16,378.57 L454.41,377.29 L454.66,376.01 L454.92,374.73 L455.17,373.45 L455.43,372.17 L455.69,370.89 L455.94,369.61 L456.20,368.33 L456.46,367.05 L456.72,365.77 L456.98,364.49 L457.24,363.21 L457.50,361.93 L457.75,360.65 L458.01,359.36 L458.27,358.08 L458.53,356.80 L458.78,355.52 L459.04,354.24 L459.29,352.96 L459.54,351.68 L459.79,350.40 L460.04,349.12 L460.29,347.84 L460.53,346.56 L460.77,345.28 L461.01,344.00 L461.25,342.72 L461.49,341.43 L461.72,340.15 L461.95,338.87 L462.18,337.59 L462.40,336.31 L462.62,335.03 L462.84,333.75 L463.06,332.47 L463.27,331.19 L463.49,329.91 L463.69,328.63 L463.90,327.35 L464.10,326.07 L464.30,324.79 L464.50,323.50 L464.69,322.22 L464.88,320.94 L465.07,319.66 L465.26,318.38 L465.44,317.10 L465.62,315.82 L465.80,314.54 L465.97,313.26 L466.14,311.98 L466.30,310.70 L466.47,309.42 L466.63,308.14 L466.79,306.86 L466.94,305.57 L467.09,304.29 L467.24,303.01 L467.38,301.73 L467.52,300.45 L467.66,299.17 L467.79,297.89 L467.92,296.61 L468.05,295.33 L468.17,294.05 L468.29,292.77 L468.41,291.49 L468.52,290.21 L468.63,288.93 L468.73,287.64 L468.84,286.36 L468.93,285.08 L469.03,283.80 L469.12,282.52 L469.21,281.24 L469.29,279.96 L469.37,278.68 L469.44,277.40 L469.51,276.12 L469.58,274.84 L469.65,273.56 L469.71,272.28 L469.76,271.00 L469.81,269.71 L469.86,268.43 L469.91,267.15 L469.95,265.87 L469.98,264.59 L470.01,263.31 L470.04,262.03 L470.06,260.75 L470.08,259.47 L470.10,258.19 L470.11,256.91 L470.11,255.63 L470.12,254.35 L470.11,253.07 L470.11,251.79 L470.10,250.50 L470.08,249.22 L470.06,247.94 L470.04,246.66 L470.01,245.38 L469.97,244.10 L469.94,242.82 L469.89,241.54 L469.85,240.26 L469.80,238.98 L469.74,237.70 L469.68,236.42 L469.61,235.14 L469.54,233.86 L469.47,232.57 L469.39,231.29 L469.30,230.01 L469.22,228.73 L469.12,227.45 L469.02,226.17 L468.92,224.89 L468.81,223.61 L468.70,222.33 L468.58,221.05 L468.46,219.77 L468.34,218.49 L468.21,217.21 L468.08,215.93 L467.94,214.64 L467.81,213.36 L467.67,212.08 L467.52,210.80 L467.38,209.52 L467.23,208.24 L467.08,206.96 L466.93,205.68 L466.78,204.40 L466.62,203.12 L466.46,201.84 L466.31,200.56 L466.15,199.28 L465.99,198.00 L465.83,196.71 L465.66,195.43 L465.50,194.15 L465.34,192.87 L465.18,191.59 L465.02,190.31 L464.86,189.03 L464.70,187.75 L464.54,186.47 L464.38,185.19 L464.22,183.91 L464.06,182.63 L463.91,181.35 L463.76,180.07 L463.60,178.78 L463.45,177.50 L463.31,176.22 L463.16,174.94 L463.02,173.66 L462.88,172.38 L462.74,171.10 L462.61,169.82 L462.47,168.54 L462.35,167.26 L462.22,165.98 L462.10,164.70 L461.98,163.42 L461.87,162.14 L461.75,160.85 L461.64,159.57 L461.54,158.29 L461.43,157.01 L461.33,155.73 L461.23,154.45 L461.13,153.17 L461.04,151.89 L460.95,150.61 L460.86,149.33 L460.77,148.05 L460.69,146.77 L460.61,145.49 L460.53,144.21 L460.45,142.93 L460.37,141.64 L460.30,140.36 L460.23,139.08 L460.16,137.80 L460.10,136.52 L460.03,135.24 L459.97,133.96 L459.91,132.68 L459.85,131.40 L459.79,130.12 L459.73,128.84 L459.68,127.56 L459.63,126.28 L459.58,125.00 L459.53,123.71 L459.48,122.43 L459.43,121.15 L459.39,119.87 L459.34,118.59 L459.30,117.31 L459.26,116.03 L459.22,114.75 L459.18,113.47 L459.14,112.19 L459.10,110.91 L459.06,109.63 L459.03,108.35 L458.99,107.07 L458.95,105.78 L458.92,104.50 L458.88,103.22 L458.84,101.94 L458.80,100.66 L458.77,99.38 L458.73,98.10 L458.69,96.82 L458.65,95.54 L458.61,94.26 L458.57,92.98 L458.52,91.70 L458.48,90.42 L458.43,89.14 L458.39,87.85 L458.34,86.57 L458.29,85.29 L458.24,84.01 L458.18,82.73 L458.13,81.45 L458.07,80.17 L458.01,78.89 L457.95,77.61 L457.88,76.33 L457.81,75.05 L457.74,73.77 L457.67,72.49 L457.59,71.21 L457.51,69.92 L457.43,68.64 L457.34,67.36 L457.25,66.08 L457.16,64.80 L457.06,63.52 L456.96,62.24 L456.86,60.96 L456.75,59.68 L456.64,58.40 L456.52,57.12 L456.40,55.84 L456.27,54.56 L456.14,53.28 L456.01,51.99 L455.87,50.71 L455.72,49.43 L455.57,48.15 L455.42,46.87 L455.26,45.59 L455.09,44.31 L454.92,43.03 L454.74,41.75 L454.56,40.47 L454.37,39.19 L454.18,37.91 L453.98,36.63 L453.77,35.35 L453.56,34.06 L453.34,32.78 L453.11,31.50 L452.88,30.22 L452.64,28.94 L452.39,27.66 L452.13,26.38 L451.87,25.10 L435.43,25.10 L435.17,26.38 L434.91,27.66 L434.66,28.94 L434.42,30.22 L434.19,31.50 L433.96,32.78 L433.74,34.06 L433.53,35.35 L433.32,36.63 L433.12,37.91 L432.93,39.19 L432.74,40.47 L432.56,41.75 L432.38,43.03 L432.21,44.31 L432.04,45.59 L431.88,46.87 L431.73,48.15 L431.58,49.43 L431.43,50.71 L431.29,51.99 L431.16,53.28 L431.03,54.56 L430.90,55.84 L430.78,57.12 L430.66,58.40 L430.55,59.68 L430.44,60.96 L430.34,62.24 L430.24,63.52 L430.14,64.80 L430.05,66.08 L429.96,67.36 L429.87,68.64 L429.79,69.92 L429.71,71.21 L429.63,72.49 L429.56,73.77 L429.49,75.05 L429.42,76.33 L429.35,77.61 L429.29,78.89 L429.23,80.17 L429.17,81.45 L429.12,82.73 L429.06,84.01 L429.01,85.29 L428.96,86.57 L428.91,87.85 L428.87,89.14 L428.82,90.42 L428.78,91.70 L428.73,92.98 L428.69,94.26 L428.65,95.54 L428.61,96.82 L428.57,98.10 L428.53,99.38 L428.50,100.66 L428.46,101.94 L428.42,103.22 L428.38,104.50 L428.35,105.78 L428.31,107.07 L428.27,108.35 L428.24,109.63 L428.20,110.91 L428.16,112.19 L428.12,113.47 L428.08,114.75 L428.04,116.03 L428.00,117.31 L427.96,118.59 L427.91,119.87 L427.87,121.15 L427.82,122.43 L427.77,123.71 L427.72,125.00 L427.67,126.28 L427.62,127.56 L427.57,128.84 L427.51,130.12 L427.45,131.40 L427.39,132.68 L427.33,133.96 L427.27,135.24 L427.20,136.52 L427.14,137.80 L427.07,139.08 L427.00,140.36 L426.93,141.64 L426.85,142.93 L426.77,144.21 L426.69,145.49 L426.61,146.77 L426.53,148.05 L426.44,149.33 L426.35,150.61 L426.26,151.89 L426.17,153.17 L426.07,154.45 L425.97,155.73 L425.87,157.01 L425.76,158.29 L425.66,159.57 L425.55,160.85 L425.43,162.14 L425.32,163.42 L425.20,164.70 L425.08,165.98 L424.95,167.26 L424.83,168.54 L424.69,169.82 L424.56,171.10 L424.42,172.38 L424.28,173.66 L424.14,174.94 L423.99,176.22 L423.85,177.50 L423.70,178.78 L423.54,180.07 L423.39,181.35 L423.24,182.63 L423.08,183.91 L422.92,185.19 L422.76,186.47 L422.60,187.75 L422.44,189.03 L422.28,190.31 L422.12,191.59 L421.96,192.87 L421.80,194.15 L421.64,195.43 L421.47,196.71 L421.31,198.00 L421.15,199.28 L420.99,200.56 L420.84,201.84 L420.68,203.12 L420.52,204.40 L420.37,205.68 L420.22,206.96 L420.07,208.24 L419.92,209.52 L419.78,210.80 L419.63,212.08 L419.49,213.36 L419.36,214.64 L419.22,215.93 L419.09,217.21 L418.96,218.49 L418.84,219.77 L418.72,221.05 L418.60,222.33 L418.49,223.61 L418.38,224.89 L418.28,226.17 L418.18,227.45 L418.08,228.73 L418.00,230.01 L417.91,231.29 L417.83,232.57 L417.76,233.86 L417.69,235.14 L417.62,236.42 L417.56,237.70 L417.50,238.98 L417.45,240.26 L417.41,241.54 L417.36,242.82 L417.33,244.10 L417.29,245.38 L417.26,246.66 L417.24,247.94 L417.22,249.22 L417.20,250.50 L417.19,251.79 L417.19,253.07 L417.18,254.35 L417.19,255.63 L417.19,256.91 L417.20,258.19 L417.22,259.47 L417.24,260.75 L417.26,262.03 L417.29,263.31 L417.32,264.59 L417.35,265.87 L417.39,267.15 L417.44,268.43 L417.49,269.71 L417.54,271.00 L417.59,272.28 L417.65,273.56 L417.72,274.84 L417.79,276.12 L417.86,277.40 L417.93,278.68 L418.01,279.96 L418.09,281.24 L418.18,282.52 L418.27,283.80 L418.37,285.08 L418.46,286.36 L418.57,287.64 L418.67,288.93 L418.78,290.21 L418.89,291.49 L419.01,292.77 L419.13,294.05 L419.25,295.33 L419.38,296.61 L419.51,297.89 L419.64,299.17 L419.78,300.45 L419.92,301.73 L420.06,303.01 L420.21,304.29 L420.36,305.57 L420.51,306.86 L420.67,308.14 L420.83,309.42 L421.00,310.70 L421.16,311.98 L421.33,313.26 L421.50,314.54 L421.68,315.82 L421.86,317.10 L422.04,318.38 L422.23,319.66 L422.42,320.94 L422.61,322.22 L422.80,323.50 L423.00,324.79 L423.20,326.07 L423.40,327.35 L423.61,328.63 L423.81,329.91 L424.03,331.19 L424.24,332.47 L424.46,333.75 L424.68,335.03 L424.90,336.31 L425.12,337.59 L425.35,338.87 L425.58,340.15 L425.81,341.43 L426.05,342.72 L426.29,344.00 L426.53,345.28 L426.77,346.56 L427.01,347.84 L427.26,349.12 L427.51,350.40 L427.76,351.68 L428.01,352.96 L428.26,354.24 L428.52,355.52 L428.77,356.80 L429.03,358.08 L429.29,359.36 L429.55,360.65 L429.80,361.93 L430.06,363.21 L430.32,364.49 L430.58,365.77 L430.84,367.05 L431.10,368.33 L431.36,369.61 L431.61,370.89 L431.87,372.17 L432.13,373.45 L432.38,374.73 L432.64,376.01 L432.89,377.29 L433.14,378.57 L433.39,379.86 L433.64,381.14 L433.89,382.42 L434.13,383.70 L434.38,384.98 L434.62,386.26 L434.85,387.54 L435.09,388.82 L435.32,390.10 L435.55,391.38 L435.78,392.66 L436.00,393.94 L436.22,395.22 L436.44,396.50 L436.65,397.79 L436.86,399.07 L437.07,400.35 L437.27,401.63 L437.46,402.91 L437.66,404.19 L437.85,405.47 L438.03,406.75 L438.21,408.03 L438.38,409.31 L438.55,410.59 L438.72,411.87 L438.88,413.15 L439.03,414.43 L439.18,415.72 L439.33,417.00 L439.47,418.28 L439.61,419.56 L439.74,420.84 L439.87,422.12 L440.00,423.40 L440.12,424.68 L440.24,425.96 L440.35,427.24 L440.46,428.52 L440.56,429.80 L440.66,431.08 L440.76,432.36 L440.85,433.65 L440.94,434.93 L441.02,436.21 L441.11,437.49 L441.18,438.77 L441.26,440.05 L441.33,441.33 L441.40,442.61 L441.46,443.89 L441.52,445.17 L441.58,446.45 L441.63,447.73 L441.68,449.01 L441.73,450.29 L441.78,451.58 L441.82,452.86 L441.86,454.14 L441.89,455.42 L441.92,456.70 L441.95,457.98 L441.98,459.26 L442.01,460.54 L442.03,461.82 L442.05,463.10 L442.06,464.38 L442.08,465.66 L442.09,466.94 L442.10,468.22 L442.10,469.51 L442.11,470.79 L442.11,472.07 L442.11,473.35 L442.11,474.63 L442.10,475.91 L442.09,477.19 L442.09,478.47 L442.07,479.75 L442.06,481.03 L442.05,482.31 L442.03,483.59 L442.01,484.87 L441.99,486.15 L441.97,487.44 L441.95,488.72 L441.92,490.00 L441.90,491.28 L441.87,492.56 L441.84,493.84 L441.81,495.12 L441.78,496.40 Z" fill="#EE6F6C" stroke="#333333" stroke-width="1.5" stroke-linejoin="round"/><path d="M507.76,490.10 L507.85,488.82 L507.93,487.54 L508.01,486.26 L508.08,484.98 L508.14,483.70 L508.20,482.42 L508.25,481.14 L508.30,479.86 L508.34,478.58 L508.38,477.30 L508.41,476.02 L508.44,474.74 L508.47,473.46 L508.49,472.18 L508.50,470.90 L508.52,469.62 L508.53,468.34 L508.54,467.06 L508.55,465.78 L508.55,464.50 L508.56,463.22 L508.56,461.94 L508.56,460.66 L508.56,459.38 L508.56,458.10 L508.56,456.82 L508.56,455.54 L508.56,454.26 L508.56,452.98 L508.56,451.70 L508.56,450.42 L508.56,449.14 L508.57,447.86 L508.58,446.58 L508.59,445.30 L508.60,444.02 L508.61,442.74 L508.63,441.46 L508.65,440.18 L508.68,438.90 L508.71,437.62 L508.74,436.34 L508.78,435.06 L508.82,433.78 L508.87,432.50 L508.92,431.22 L508.98,429.94 L509.05,428.66 L509.12,427.38 L509.20,426.10 L509.28,424.82 L509.37,423.54 L509.47,422.26 L509.58,420.98 L509.69,419.70 L509.82,418.42 L509.95,417.14 L510.09,415.86 L510.24,414.58 L510.39,413.30 L510.56,412.02 L510.74,410.74 L510.93,409.46 L511.13,408.18 L511.34,406.90 L511.56,405.62 L511.79,404.34 L512.03,403.06 L512.28,401.78 L512.54,400.50 L512.81,399.22 L513.09,397.94 L513.37,396.66 L513.66,395.38 L513.97,394.10 L514.28,392.82 L514.59,391.54 L514.91,390.26 L515.24,388.98 L515.58,387.70 L515.91,386.42 L516.26,385.14 L516.61,383.86 L516.96,382.58 L517.32,381.30 L517.68,380.02 L518.05,378.74 L518.41,377.46 L518.78,376.18 L519.16,374.90 L519.53,373.62 L519.91,372.34 L520.28,371.06 L520.66,369.78 L521.04,368.50 L521.42,367.22 L521.79,365.94 L522.17,364.66 L522.55,363.38 L522.92,362.10 L523.29,360.82 L523.67,359.54 L524.03,358.26 L524.40,356.98 L524.76,355.70 L525.12,354.42 L525.48,353.14 L525.83,351.86 L526.18,350.58 L526.52,349.30 L526.86,348.02 L527.20,346.74 L527.53,345.46 L527.86,344.18 L528.18,342.90 L528.51,341.62 L528.82,340.34 L529.13,339.06 L529.44,337.78 L529.74,336.50 L530.04,335.22 L530.34,333.94 L530.62,332.66 L530.91,331.38 L531.19,330.10 L531.46,328.82 L531.73,327.54 L532.00,326.26 L532.25,324.98 L532.51,323.70 L532.76,322.42 L533.00,321.14 L533.24,319.86 L533.47,318.58 L533.70,317.30 L533.92,316.02 L534.13,314.74 L534.34,313.46 L534.55,312.18 L534.74,310.90 L534.94,309.62 L535.12,308.34 L535.30,307.06 L535.47,305.78 L535.64,304.50 L535.80,303.22 L535.96,301.94 L536.10,300.66 L536.24,299.38 L536.38,298.10 L536.50,296.82 L536.63,295.54 L536.74,294.26 L536.85,292.98 L536.95,291.70 L537.04,290.42 L537.12,289.14 L537.20,287.86 L537.27,286.58 L537.33,285.30 L537.39,284.02 L537.44,282.74 L537.48,281.46 L537.51,280.18 L537.54,278.90 L537.55,277.62 L537.56,276.34 L537.56,275.06 L537.56,273.78 L537.54,272.50 L537.52,271.22 L537.49,269.94 L537.45,268.66 L537.40,267.38 L537.34,266.10 L537.28,264.82 L537.20,263.53 L537.12,262.25 L537.03,260.97 L536.93,259.69 L536.82,258.41 L536.70,257.13 L536.57,255.85 L536.43,254.57 L536.29,253.29 L536.13,252.01 L535.97,250.73 L535.79,249.45 L535.61,248.17 L535.42,246.89 L535.23,245.61 L535.03,244.33 L534.82,243.05 L534.60,241.77 L534.38,240.49 L534.16,239.21 L533.92,237.93 L533.69,236.65 L533.45,235.37 L533.21,234.09 L532.96,232.81 L532.71,231.53 L532.46,230.25 L532.21,228.97 L531.95,227.69 L531.70,226.41 L531.44,225.13 L531.18,223.85 L530.93,222.57 L530.67,221.29 L530.41,220.01 L530.16,218.73 L529.91,217.45 L529.66,216.17 L529.41,214.89 L529.16,213.61 L528.92,212.33 L528.68,211.05 L528.45,209.77 L528.22,208.49 L527.99,207.21 L527.77,205.93 L527.56,204.65 L527.35,203.37 L527.15,202.09 L526.96,200.81 L526.77,199.53 L526.59,198.25 L526.41,196.97 L526.25,195.69 L526.09,194.41 L525.93,193.13 L525.78,191.85 L525.64,190.57 L525.50,189.29 L525.37,188.01 L525.24,186.73 L525.12,185.45 L525.00,184.17 L524.89,182.89 L524.78,181.61 L524.68,180.33 L524.58,179.05 L524.48,177.77 L524.39,176.49 L524.31,175.21 L524.22,173.93 L524.14,172.65 L524.07,171.37 L524.00,170.09 L523.93,168.81 L523.86,167.53 L523.80,166.25 L523.74,164.97 L523.69,163.69 L523.63,162.41 L523.58,161.13 L523.53,159.85 L523.48,158.57 L523.44,157.29 L523.39,156.01 L523.35,154.73 L523.31,153.45 L523.27,152.17 L523.23,150.89 L523.19,149.61 L523.16,148.33 L523.12,147.05 L523.09,145.77 L523.05,144.49 L523.02,143.21 L522.98,141.93 L522.95,140.65 L522.91,139.37 L522.88,138.09 L522.85,136.81 L522.81,135.53 L522.77,134.25 L522.74,132.97 L522.70,131.69 L522.66,130.41 L522.61,129.13 L522.57,127.85 L522.52,126.57 L522.47,125.29 L522.42,124.01 L522.36,122.73 L522.30,121.45 L522.23,120.17 L522.16,118.89 L522.08,117.61 L522.00,116.33 L521.91,115.05 L521.82,113.77 L521.72,112.49 L521.61,111.21 L521.50,109.93 L521.38,108.65 L521.25,107.37 L521.11,106.09 L520.96,104.81 L520.81,103.53 L520.64,102.25 L520.47,100.97 L520.28,99.69 L520.09,98.41 L519.88,97.13 L519.67,95.85 L519.45,94.57 L519.23,93.29 L519.00,92.01 L518.76,90.73 L518.53,89.45 L518.29,88.17 L518.05,86.89 L517.81,85.61 L517.57,84.33 L517.34,83.05 L517.10,81.77 L516.87,80.49 L516.64,79.21 L516.41,77.93 L516.18,76.65 L515.95,75.37 L515.73,74.09 L515.50,72.81 L515.28,71.53 L515.06,70.25 L514.84,68.97 L514.62,67.69 L514.41,66.41 L514.19,65.13 L513.98,63.85 L513.77,62.57 L513.56,61.29 L513.35,60.01 L513.14,58.73 L512.93,57.45 L512.72,56.17 L512.52,54.89 L512.32,53.61 L512.11,52.33 L511.91,51.05 L511.71,49.77 L511.52,48.49 L511.32,47.21 L511.12,45.93 L510.93,44.65 L510.73,43.37 L510.54,42.09 L510.35,40.81 L510.16,39.53 L509.97,38.25 L501.83,38.25 L501.64,39.53 L501.45,40.81 L501.26,42.09 L501.07,43.37 L500.87,44.65 L500.68,45.93 L500.48,47.21 L500.28,48.49 L500.09,49.77 L499.89,51.05 L499.69,52.33 L499.48,53.61 L499.28,54.89 L499.08,56.17 L498.87,57.45 L498.66,58.73 L498.45,60.01 L498.24,61.29 L498.03,62.57 L497.82,63.85 L497.61,65.13 L497.39,66.41 L497.18,67.69 L496.96,68.97 L496.74,70.25 L496.52,71.53 L496.30,72.81 L496.07,74.09 L495.85,75.37 L495.62,76.65 L495.39,77.93 L495.16,79.21 L494.93,80.49 L494.70,81.77 L494.46,83.05 L494.23,84.33 L493.99,85.61 L493.75,86.89 L493.51,88.17 L493.27,89.45 L493.04,90.73 L492.80,92.01 L492.57,93.29 L492.35,94.57 L492.13,95.85 L491.92,97.13 L491.71,98.41 L491.52,99.69 L491.33,100.97 L491.16,102.25 L490.99,103.53 L490.84,104.81 L490.69,106.09 L490.55,107.37 L490.42,108.65 L490.30,109.93 L490.19,111.21 L490.08,112.49 L489.98,113.77 L489.89,115.05 L489.80,116.33 L489.72,117.61 L489.64,118.89 L489.57,120.17 L489.50,121.45 L489.44,122.73 L489.38,124.01 L489.33,125.29 L489.28,126.57 L489.23,127.85 L489.19,129.13 L489.14,130.41 L489.10,131.69 L489.06,132.97 L489.03,134.25 L488.99,135.53 L488.95,136.81 L488.92,138.09 L488.89,139.37 L488.85,140.65 L488.82,141.93 L488.78,143.21 L488.75,144.49 L488.71,145.77 L488.68,147.05 L488.64,148.33 L488.61,149.61 L488.57,150.89 L488.53,152.17 L488.49,153.45 L488.45,154.73 L488.41,156.01 L488.36,157.29 L488.32,158.57 L488.27,159.85 L488.22,161.13 L488.17,162.41 L488.11,163.69 L488.06,164.97 L488.00,166.25 L487.94,167.53 L487.87,168.81 L487.80,170.09 L487.73,171.37 L487.66,172.65 L487.58,173.93 L487.49,175.21 L487.41,176.49 L487.32,177.77 L487.22,179.05 L487.12,180.33 L487.02,181.61 L486.91,182.89 L486.80,184.17 L486.68,185.45 L486.56,186.73 L486.43,188.01 L486.30,189.29 L486.16,190.57 L486.02,191.85 L485.87,193.13 L485.71,194.41 L485.55,195.69 L485.39,196.97 L485.21,198.25 L485.03,199.53 L484.84,200.81 L484.65,202.09 L484.45,203.37 L484.24,204.65 L484.03,205.93 L483.81,207.21 L483.58,208.49 L483.35,209.77 L483.12,211.05 L482.88,212.33 L482.64,213.61 L482.39,214.89 L482.14,216.17 L481.89,217.45 L481.64,218.73 L481.39,220.01 L481.13,221.29 L480.87,222.57 L480.62,223.85 L480.36,225.13 L480.10,226.41 L479.85,227.69 L479.59,228.97 L479.34,230.25 L479.09,231.53 L478.84,232.81 L478.59,234.09 L478.35,235.37 L478.11,236.65 L477.88,237.93 L477.64,239.21 L477.42,240.49 L477.20,241.77 L476.98,243.05 L476.77,244.33 L476.57,245.61 L476.38,246.89 L476.19,248.17 L476.01,249.45 L475.83,250.73 L475.67,252.01 L475.51,253.29 L475.37,254.57 L475.23,255.85 L475.10,257.13 L474.98,258.41 L474.87,259.69 L474.77,260.97 L474.68,262.25 L474.60,263.53 L474.52,264.82 L474.46,266.10 L474.40,267.38 L474.35,268.66 L474.31,269.94 L474.28,271.22 L474.26,272.50 L474.24,273.78 L474.24,275.06 L474.24,276.34 L474.25,277.62 L474.26,278.90 L474.29,280.18 L474.32,281.46 L474.36,282.74 L474.41,284.02 L474.47,285.30 L474.53,286.58 L474.60,287.86 L474.68,289.14 L474.76,290.42 L474.85,291.70 L474.95,292.98 L475.06,294.26 L475.17,295.54 L475.30,296.82 L475.42,298.10 L475.56,299.38 L475.70,300.66 L475.84,301.94 L476.00,303.22 L476.16,304.50 L476.33,305.78 L476.50,307.06 L476.68,308.34 L476.86,309.62 L477.06,310.90 L477.25,312.18 L477.46,313.46 L477.67,314.74 L477.88,316.02 L478.10,317.30 L478.33,318.58 L478.56,319.86 L478.80,321.14 L479.04,322.42 L479.29,323.70 L479.55,324.98 L479.80,326.26 L480.07,327.54 L480.34,328.82 L480.61,330.10 L480.89,331.38 L481.18,332.66 L481.46,333.94 L481.76,335.22 L482.06,336.50 L482.36,337.78 L482.67,339.06 L482.98,340.34 L483.29,341.62 L483.62,342.90 L483.94,344.18 L484.27,345.46 L484.60,346.74 L484.94,348.02 L485.28,349.30 L485.62,350.58 L485.97,351.86 L486.32,353.14 L486.68,354.42 L487.04,355.70 L487.40,356.98 L487.77,358.26 L488.13,359.54 L488.51,360.82 L488.88,362.10 L489.25,363.38 L489.63,364.66 L490.01,365.94 L490.38,367.22 L490.76,368.50 L491.14,369.78 L491.52,371.06 L491.89,372.34 L492.27,373.62 L492.64,374.90 L493.02,376.18 L493.39,377.46 L493.75,378.74 L494.12,380.02 L494.48,381.30 L494.84,382.58 L495.19,383.86 L495.54,385.14 L495.89,386.42 L496.22,387.70 L496.56,388.98 L496.89,390.26 L497.21,391.54 L497.52,392.82 L497.83,394.10 L498.14,395.38 L498.43,396.66 L498.71,397.94 L498.99,399.22 L499.26,400.50 L499.52,401.78 L499.77,403.06 L500.01,404.34 L500.24,405.62 L500.46,406.90 L500.67,408.18 L500.87,409.46 L501.06,410.74 L501.24,412.02 L501.41,413.30 L501.56,414.58 L501.71,415.86 L501.85,417.14 L501.98,418.42 L502.11,419.70 L502.22,420.98 L502.33,422.26 L502.43,423.54 L502.52,424.82 L502.60,426.10 L502.68,427.38 L502.75,428.66 L502.82,429.94 L502.88,431.22 L502.93,432.50 L502.98,433.78 L503.02,435.06 L503.06,436.34 L503.09,437.62 L503.12,438.90 L503.15,440.18 L503.17,441.46 L503.19,442.74 L503.20,444.02 L503.21,445.30 L503.22,446.58 L503.23,447.86 L503.24,449.14 L503.24,450.42 L503.24,451.70 L503.24,452.98 L503.24,454.26 L503.24,455.54 L503.24,456.82 L503.24,458.10 L503.24,459.38 L503.24,460.66 L503.24,461.94 L503.24,463.22 L503.25,464.50 L503.25,465.78 L503.26,467.06 L503.27,468.34 L503.28,469.62 L503.30,470.90 L503.31,472.18 L503.33,473.46 L503.36,474.74 L503.39,476.02 L503.42,477.30 L503.46,478.58 L503.50,479.86 L503.55,481.14 L503.60,482.42 L503.66,483.70 L503.72,484.98 L503.79,486.26 L503.87,487.54 L503.95,488.82 L504.04,490.10 Z" fill="#5BD4C8" stroke="#333333" stroke-width="1.5" stroke-linejoin="round"/><path d="M87.95,338.30 H101.75 M94.85,338.30 V348.10 M87.95,348.10 H101.75" stroke="#000" stroke-width="1.6" fill="none"/><circle cx="94.85" cy="343.20" r="3.45" fill="#000"/><path d="M150.30,344.15 H164.10 M157.20,344.15 V356.20 M150.30,356.20 H164.10" stroke="#000" stroke-width="1.6" fill="none"/><circle cx="157.20" cy="350.20" r="3.45" fill="#000"/><path d="M262.40,339.05 H276.20 M269.30,339.05 V349.80 M262.40,349.80 H276.20" stroke="#000" stroke-width="1.6" fill="none"/><circle cx="269.30" cy="344.50" r="3.45" fill="#000"/><path d="M324.65,353.00 H338.45 M331.55,353.00 V364.85 M324.65,364.85 H338.45" stroke="#000" stroke-width="1.6" fill="none"/><circle cx="331.55" cy="359.00" r="3.45" fill="#000"/><path d="M436.75,208.20 H450.55 M443.65,208.20 V238.20 M436.75,238.20 H450.55" stroke="#000" stroke-width="1.6" fill="none"/><circle cx="443.65" cy="222.85" r="3.45" fill="#000"/><path d="M499.00,237.00 H512.80 M505.90,237.00 V255.75 M499.00,255.75 H512.80" stroke="#000" stroke-width="1.6" fill="none"/><circle cx="505.90" cy="246.35" r="3.45" fill="#000"/><line x1="39.0" x2="43" y1="509.70" y2="509.70" stroke="#333333" stroke-width="1.5"/><line x1="39.0" x2="43" y1="458.50" y2="458.50" stroke="#333333" stroke-width="1.5"/><line x1="39.0" x2="43" y1="407.30" y2="407.30" stroke="#333333" stroke-width="1.5"/><line x1="39.0" x2="43" y1="356.10" y2="356.10" stroke="#333333" stroke-width="1.5"/><line x1="39.0" x2="43" y1="304.90" y2="304.90" stroke="#333333" stroke-width="1.5"/><line x1="39.0" x2="43" y1="253.70" y2="253.70" stroke="#333333" stroke-width="1.5"/><line x1="39.0" x2="43" y1="202.50" y2="202.50" stroke="#333333" stroke-width="1.5"/><line x1="39.0" x2="43" y1="151.30" y2="151.30" stroke="#333333" stroke-width="1.5"/><line x1="39.0" x2="43" y1="100.10" y2="100.10" stroke="#333333" stroke-width="1.5"/><line x1="39.0" x2="43" y1="48.90" y2="48.90" stroke="#333333" stroke-width="1.5"/><rect x="583.8" y="254.6" width="23.6" height="23.6" fill="#EE6F6C" stroke="#333333" stroke-width="1.5"/><circle cx="595.6" cy="266.40" r="3.3" fill="#000"/><rect x="583.8" y="280.8" width="23.6" height="23.6" fill="#5BD4C8" stroke="#333333" stroke-width="1.5"/><circle cx="595.6" cy="292.60" r="3.3" fill="#000"/></svg>
<div class="yt" style="top:503.42px">12</div><div class="yt" style="top:452.22px">14</div><div class="yt" style="top:401.02px">16</div><div class="yt" style="top:349.82px">18</div><div class="yt" style="top:298.62px">20</div><div class="yt" style="top:247.42px">22</div><div class="yt" style="top:196.22px">24</div><div class="yt" style="top:145.02px">26</div><div class="yt" style="top:93.82px">28</div><div class="yt" style="top:42.62px">30</div><div class="st" style="left:43.0px;top:539.73px">NAPLS-2</div><div class="st" style="left:217.45px;top:539.73px">NAPLS-3</div><div class="st" style="left:391.9px;top:539.73px">CAPR</div>
<div class="xt">Study</div>
<div class="ytitle">Age (Years)</div>
<div class="lt">Assigned Sex</div>
<div class="ll" style="top:260.23px">Male</div>
<div class="ll" style="top:286.03px">Female</div>
</body></html>
